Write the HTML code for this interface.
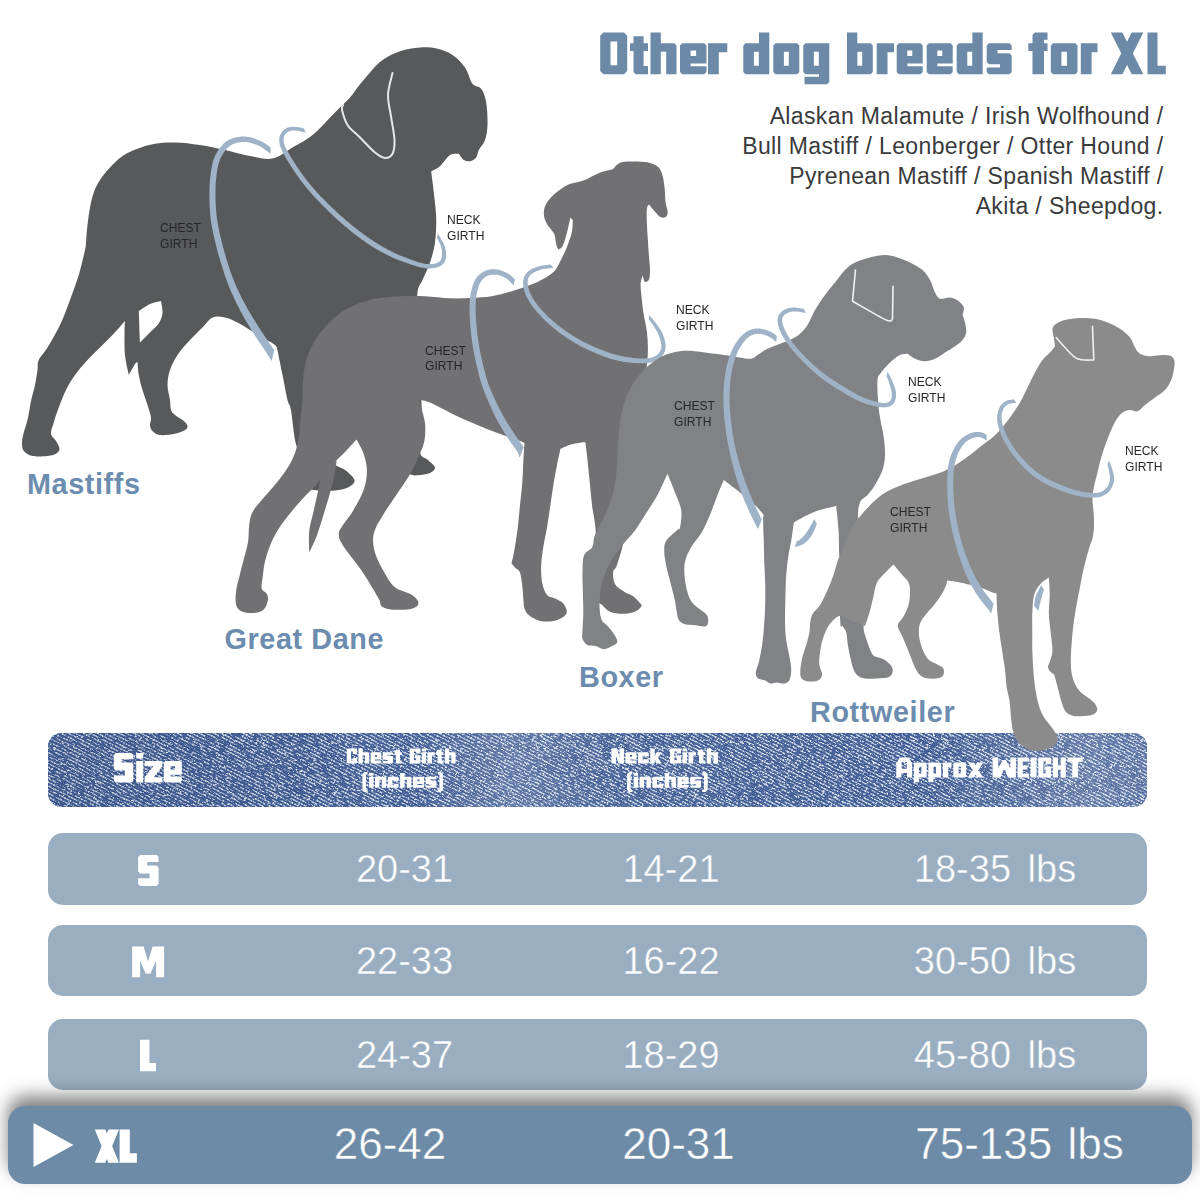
<!DOCTYPE html>
<html><head><meta charset="utf-8"><title>Size chart</title>
<style>
html,body{margin:0;padding:0;background:#fff;}
body{width:1200px;height:1200px;position:relative;overflow:hidden;font-family:"Liberation Sans",sans-serif;}
.abs{position:absolute;white-space:nowrap;}
#breeds{right:36.5px;top:102.4px;text-align:right;font-size:23px;line-height:29.75px;color:#3a3a3c;letter-spacing:0.37px;}
.lbl{font-size:13px;line-height:15.9px;color:#262628;transform-origin:0 0;transform:scaleX(0.93);}
.name{letter-spacing:0.6px;font-size:28.8px;font-weight:bold;color:#6b8cae;line-height:30px;}
.row{position:absolute;left:48px;width:1099px;height:71px;border-radius:15px;background:#9aaec1;}
.cell{position:absolute;color:#fff;font-size:38px;line-height:40px;transform:translateX(-50%);white-space:nowrap;-webkit-text-stroke:0.45px #9aaec1;}
.cx{-webkit-text-stroke:0.5px #6d8aa6;}
.sz{position:absolute;color:#fff;font-weight:bold;white-space:nowrap;transform:translateX(-50%);}
#hdr{position:absolute;left:48px;top:733px;width:1099px;height:74px;border-radius:14px;overflow:hidden;background:#6a8bbb;}
#xl{position:absolute;left:7.5px;top:1105.6px;width:1184.5px;height:78.4px;border-radius:17px;background:#6d8aa6;box-shadow:0 -10px 18px rgba(0,0,0,.5);}
.ht{color:transparent;font-weight:bold;}
.h{position:absolute;color:#fff;font-weight:bold;text-align:center;white-space:nowrap;transform:translateX(-50%);}
</style></head><body>
<div id="hdr"><svg width="1099" height="74" viewBox="0 0 1099 74" style="display:block">
<defs>
<pattern id="tw" width="3.1" height="3.3" patternUnits="userSpaceOnUse" patternTransform="rotate(27)">
<rect width="3.1" height="3.3" fill="#37538a"/><rect y="0" width="3.1" height="1.6" fill="#6f8dbd"/><rect x="0.2" y="0" width="2.0" height="1.5" fill="#eef1f7"/>
</pattern>
<filter id="dk" x="0" y="0" width="100%" height="100%" color-interpolation-filters="sRGB">
<feTurbulence type="fractalNoise" baseFrequency="0.22 0.6" numOctaves="2" seed="23" result="n"/>
<feColorMatrix in="n" type="matrix" values="0 0 0 0 0.28  0 0 0 0 0.39  0 0 0 0 0.60  9 0 0 0 -4.25"/>
</filter>
<filter id="sp" x="0" y="0" width="100%" height="100%" color-interpolation-filters="sRGB">
<feTurbulence type="fractalNoise" baseFrequency="0.4 0.9" numOctaves="2" seed="7" result="n"/>
<feColorMatrix in="n" type="matrix" values="0 0 0 0 0.90  0 0 0 0 0.92  0 0 0 0 0.96  8 0 0 0 -4.6"/>
</filter>
<linearGradient id="fade" x1="0" x2="1" y1="0" y2="0"><stop offset="0" stop-color="#0a1a40" stop-opacity=".10"/><stop offset=".25" stop-color="#0a1a40" stop-opacity=".04"/><stop offset=".33" stop-color="#fff" stop-opacity="0"/><stop offset=".42" stop-color="#fff" stop-opacity=".16"/><stop offset=".52" stop-color="#fff" stop-opacity=".03"/><stop offset=".8" stop-color="#fff" stop-opacity="0"/><stop offset=".95" stop-color="#fff" stop-opacity=".18"/><stop offset="1" stop-color="#fff" stop-opacity=".12"/></linearGradient>
</defs>
<rect width="1099" height="74" fill="url(#tw)"/>
<g transform="rotate(27 550 37)"><rect x="-100" y="-300" width="1300" height="700" filter="url(#dk)"/><rect x="-100" y="-300" width="1300" height="700" filter="url(#sp)"/></g>
<rect width="1099" height="74" fill="url(#fade)"/>
</svg></div>
<svg class="abs" style="left:0;top:0" width="1200" height="1200" viewBox="0 0 1200 1200">
<path d="M90.0,207.5C91.0,202.1 92.1,197.1 93.8,192.5C95.4,187.9 97.3,184.2 100.0,180.0C102.7,175.8 106.2,171.5 110.0,167.5C113.8,163.5 117.9,159.1 122.5,156.0C127.1,152.9 132.1,150.8 137.5,148.8C142.9,146.7 148.8,144.8 155.0,143.8C161.2,142.7 167.5,142.3 175.0,142.5C182.5,142.7 191.7,143.8 200.0,145.0C208.3,146.2 216.7,148.2 225.0,150.0C233.3,151.8 242.1,154.6 250.0,156.0C257.9,157.4 265.4,159.9 272.5,158.5C279.6,157.1 285.8,151.4 292.5,147.5C299.2,143.6 305.4,140.8 312.5,135.0C319.6,129.2 328.8,118.8 335.0,112.5C341.2,106.2 346.2,101.7 350.0,97.5C353.8,93.3 354.2,91.7 357.5,87.5C360.8,83.3 365.8,77.1 370.0,72.5C374.2,67.9 377.5,63.5 382.5,60.0C387.5,56.5 393.8,53.3 400.0,51.2C406.2,49.1 413.8,47.9 420.0,47.5C426.2,47.1 432.1,47.5 437.5,48.8C442.9,50.0 447.9,51.9 452.5,55.0C457.1,58.1 461.7,62.7 465.0,67.5C468.3,72.3 469.8,80.2 472.5,83.8C475.2,87.3 478.9,85.7 481.2,88.8C483.5,91.9 485.1,96.5 486.2,102.5C487.2,108.5 487.7,118.8 487.5,125.0C487.3,131.2 486.4,135.8 485.0,140.0C483.6,144.2 480.3,147.1 478.8,150.0C477.3,152.9 477.7,155.6 476.2,157.5C474.7,159.4 472.1,160.8 470.0,161.2C467.9,161.6 465.7,161.2 463.8,160.0C461.9,158.8 459.6,154.8 458.8,153.8C457.3,154.0 453.1,152.9 450.0,155.0C446.9,157.1 443.1,163.5 440.0,166.2C436.9,168.9 432.7,170.4 431.2,171.2C431.6,174.8 433.0,184.8 433.8,192.5C434.6,200.2 436.0,209.2 436.2,217.5C436.4,225.8 436.0,235.0 435.0,242.5C434.0,250.0 432.1,256.2 430.0,262.5C427.9,268.8 424.6,275.0 422.5,280.0C420.4,285.0 418.6,284.2 417.5,292.5C416.4,300.8 415.6,315.4 416.0,330.0C416.4,344.6 419.0,365.0 420.0,380.0C421.0,395.0 422.0,408.0 422.0,420.0C422.0,432.0 419.0,445.3 420.0,452.0C421.0,458.7 425.5,457.4 428.0,460.0C430.5,462.6 434.7,465.3 435.0,467.5C435.3,469.7 432.5,471.8 430.0,473.0C427.5,474.2 423.3,474.8 420.0,475.0C416.7,475.2 412.5,476.2 410.0,474.0C407.5,471.8 406.2,467.7 405.0,462.0C403.8,456.3 403.8,450.3 403.0,440.0C402.2,429.7 401.3,411.3 400.0,400.0C398.7,388.7 397.0,379.0 395.0,372.0C393.0,365.0 397.2,356.7 388.0,358.0C378.8,359.3 349.3,369.7 340.0,380.0C330.7,390.3 333.7,408.3 332.0,420.0C330.3,431.7 329.8,442.8 330.0,450.0C330.2,457.2 330.5,459.7 333.0,463.0C335.5,466.3 341.4,467.2 345.0,470.0C348.6,472.8 353.8,477.2 354.5,480.0C355.2,482.8 352.2,485.2 349.0,487.0C345.8,488.8 340.2,489.9 335.0,490.5C329.8,491.1 322.3,491.1 318.0,490.5C313.7,489.9 311.2,490.4 309.0,487.0C306.8,483.6 306.5,475.3 305.0,470.0C303.5,464.7 301.7,460.0 300.0,455.0C298.3,450.0 296.5,447.5 295.0,440.0C293.5,432.5 292.2,416.7 291.0,410.0C289.8,403.3 288.9,405.8 287.5,400.0C286.1,394.2 284.2,383.3 282.5,375.0C280.8,366.7 278.3,354.2 277.5,350.0C277.1,349.2 277.5,347.1 275.0,345.0C272.5,342.9 266.7,340.0 262.5,337.5C258.3,335.0 254.2,332.5 250.0,330.0C245.8,327.5 241.7,324.6 237.5,322.5C233.3,320.4 229.2,318.3 225.0,317.5C220.8,316.7 216.2,315.8 212.5,317.5C208.8,319.2 206.2,323.8 202.5,327.5C198.8,331.2 194.2,335.4 190.0,340.0C185.8,344.6 180.8,350.0 177.5,355.0C174.2,360.0 171.7,365.0 170.0,370.0C168.3,375.0 167.5,380.0 167.5,385.0C167.5,390.0 169.4,395.8 170.0,400.0C170.6,404.2 170.2,407.5 171.0,410.0C171.8,412.5 172.9,413.2 175.0,415.0C177.1,416.8 181.7,419.2 183.8,421.0C185.8,422.8 187.3,424.5 187.5,426.0C187.7,427.5 187.1,428.7 185.0,430.0C182.9,431.3 179.2,432.9 175.0,433.8C170.8,434.6 163.8,435.5 160.0,435.0C156.2,434.5 154.2,432.7 152.5,431.0C150.8,429.3 150.2,427.2 150.0,425.0C149.8,422.8 151.4,420.8 151.0,417.5C150.6,414.2 148.9,409.6 147.5,405.0C146.1,400.4 144.0,395.0 142.5,390.0C141.0,385.0 139.6,379.7 138.8,375.0C137.9,370.3 137.7,364.2 137.5,362.0C137.1,362.3 136.5,361.8 135.0,364.0C133.5,366.2 129.8,373.2 128.8,375.0C128.1,371.7 125.7,362.1 125.0,355.0C124.3,347.9 124.5,338.2 124.5,332.5C124.5,326.8 124.9,322.9 125.0,321.0C122.9,323.3 116.7,330.6 112.5,335.0C108.3,339.4 104.2,343.3 100.0,347.5C95.8,351.7 91.7,355.4 87.5,360.0C83.3,364.6 78.6,370.0 75.0,375.0C71.4,380.0 68.7,384.6 66.0,390.0C63.3,395.4 60.8,402.1 58.8,407.5C56.7,412.9 55.0,418.1 53.8,422.5C52.5,426.9 50.6,430.7 51.0,433.8C51.4,436.8 54.6,438.5 56.0,441.0C57.4,443.5 59.5,446.6 59.5,448.8C59.5,450.9 58.0,452.5 56.0,453.8C54.0,455.0 51.4,455.6 47.5,456.0C43.6,456.4 36.5,456.8 32.5,456.0C28.5,455.2 25.5,453.2 23.8,451.0C22.0,448.8 22.0,445.6 22.0,442.5C22.0,439.4 22.8,436.2 23.8,432.5C24.7,428.8 26.2,425.4 27.5,420.0C28.8,414.6 30.0,405.8 31.2,400.0C32.5,394.2 34.0,390.0 35.0,385.0C36.0,380.0 36.9,374.2 37.5,370.0C38.1,365.8 37.1,363.8 38.8,360.0C40.4,356.2 44.0,353.3 47.5,347.5C51.0,341.7 56.2,332.9 60.0,325.0C63.8,317.1 66.9,308.3 70.0,300.0C73.1,291.7 76.2,283.3 78.8,275.0C81.2,266.7 83.8,255.4 85.0,250.0C86.2,244.6 85.6,246.7 86.0,242.5C86.4,238.3 86.8,230.8 87.5,225.0C88.2,219.2 89.0,212.9 90.0,207.5Z" fill="#58595b"/>
<path d="M138.8,311.0C140.6,309.8 146.3,305.7 150.0,304.0C153.7,302.3 159.2,301.5 161.0,301.0C161.2,302.9 162.8,308.8 162.5,312.5C162.2,316.2 161.1,319.7 159.0,323.0C156.9,326.3 153.2,329.2 150.0,332.5C146.8,335.8 141.7,340.8 140.0,342.5C139.8,337.2 139.0,316.2 138.8,311.0Z" fill="#fff"/>
<path d="M392.5,73.0C391.8,76.7 388.2,87.6 388.0,95.0C387.8,102.4 390.1,110.0 391.2,117.5C392.3,125.0 394.3,133.9 394.5,140.0C394.7,146.1 394.1,150.8 392.5,153.8C390.9,156.8 387.9,158.2 385.0,158.0C382.1,157.8 379.2,155.9 375.0,152.5C370.8,149.1 364.6,142.1 360.0,137.5C355.4,132.9 350.5,129.6 347.5,125.0C344.5,120.4 342.8,113.3 342.0,110.0C341.2,106.7 342.8,105.8 343.0,105.0" fill="none" stroke="#e6e7e8" stroke-width="2.0" stroke-linecap="round" stroke-linejoin="round"/>
<path d="M304.1,128.6L303.5,128.4L303.0,128.3L302.4,128.1L301.8,127.9L301.2,127.8L300.6,127.6L300.0,127.5L299.4,127.4L298.8,127.3L298.2,127.2L297.7,127.1L297.2,127.0L296.6,127.0L296.1,126.9L295.5,126.9L295.0,126.9L294.4,126.8L293.9,126.8L293.3,126.8L292.8,126.8L292.2,126.8L291.7,126.8L291.1,126.9L290.6,126.9L290.1,127.0L289.6,127.1L289.1,127.2L288.6,127.4L288.2,127.5L287.7,127.6L287.3,127.8L286.8,128.0L286.4,128.2L286.0,128.4L285.6,128.6L285.2,128.9L284.8,129.1L284.4,129.4L284.1,129.7L283.7,130.0L283.4,130.3L283.0,130.6L282.7,131.0L282.4,131.3L282.1,131.7L281.8,132.1L281.5,132.5L281.3,132.9L281.0,133.3L280.8,133.7L280.5,134.2L280.3,134.7L280.1,135.1L279.9,135.6L279.8,136.1L279.6,136.6L279.5,137.2L279.4,137.7L279.3,138.2L279.3,138.8L279.2,139.3L279.2,139.9L279.2,140.4L279.3,141.0L279.3,141.5L279.4,142.1L279.4,142.7L279.5,143.2L279.6,143.8L279.7,144.4L279.9,145.0L280.0,145.5L280.2,146.1L280.4,146.7L280.5,147.3L280.8,147.9L281.0,148.4L281.2,149.0L281.5,149.6L281.7,150.1L282.0,150.7L282.3,151.3L282.6,151.8L282.9,152.4L283.2,153.0L283.5,153.6L283.8,154.2L284.2,154.8L284.6,155.5L284.9,156.2L285.3,156.9L285.8,157.6L286.2,158.4L286.6,159.2L287.1,160.0L287.6,160.8L288.1,161.6L288.6,162.4L289.1,163.3L289.7,164.1L290.2,165.0L290.8,165.9L291.3,166.7L291.9,167.6L292.4,168.5L293.0,169.3L293.6,170.2L294.1,171.0L294.7,171.9L295.3,172.8L295.9,173.7L296.5,174.6L297.2,175.4L297.8,176.3L298.4,177.2L299.1,178.1L299.7,179.0L300.4,179.9L301.0,180.8L301.7,181.7L302.4,182.6L303.1,183.5L303.8,184.4L304.5,185.3L305.2,186.1L305.9,187.0L306.6,187.9L307.3,188.7L308.0,189.6L308.8,190.5L309.5,191.3L310.3,192.2L311.0,193.1L311.8,194.0L312.6,194.9L313.5,195.8L314.3,196.8L315.2,197.7L316.1,198.7L317.0,199.6L317.9,200.6L318.9,201.6L319.9,202.6L320.9,203.7L321.9,204.7L322.9,205.7L323.9,206.8L325.0,207.8L326.0,208.8L327.1,209.8L328.1,210.9L329.2,211.9L330.2,212.9L331.2,213.9L332.3,214.8L333.3,215.8L334.3,216.8L335.4,217.7L336.4,218.7L337.4,219.6L338.5,220.6L339.5,221.5L340.6,222.4L341.7,223.4L342.7,224.3L343.8,225.3L344.9,226.2L346.1,227.1L347.2,228.1L348.3,229.0L349.5,230.0L350.7,231.0L351.9,231.9L353.2,232.9L354.4,233.9L355.7,234.9L356.9,235.8L358.2,236.8L359.5,237.8L360.8,238.8L362.1,239.7L363.4,240.6L364.7,241.6L366.0,242.5L367.3,243.4L368.5,244.2L369.8,245.0L371.1,245.9L372.4,246.7L373.7,247.5L375.0,248.2L376.3,249.0L377.5,249.7L378.8,250.5L380.1,251.2L381.4,251.9L382.7,252.6L383.9,253.3L385.2,253.9L386.4,254.5L387.7,255.2L388.9,255.8L390.1,256.3L391.3,256.9L392.5,257.5L393.6,258.0L394.8,258.5L396.0,259.0L397.1,259.4L398.3,259.9L399.4,260.4L400.5,260.8L401.7,261.2L402.8,261.6L403.9,262.0L405.0,262.4L406.1,262.8L407.2,263.2L408.3,263.6L409.4,264.0L410.5,264.4L411.7,264.7L412.8,265.1L413.9,265.5L415.1,265.8L416.2,266.2L417.3,266.5L418.4,266.8L419.5,267.1L420.6,267.4L421.6,267.6L422.7,267.8L423.7,268.0L424.7,268.2L425.7,268.3L426.6,268.4L427.6,268.4L428.5,268.4L429.5,268.5L430.4,268.4L431.3,268.4L432.1,268.3L433.0,268.2L433.8,268.1L434.6,268.0L435.4,267.8L436.1,267.6L436.9,267.4L437.6,267.2L438.2,267.0L438.9,266.7L439.5,266.4L440.1,266.1L440.7,265.8L441.3,265.4L441.8,265.1L442.3,264.6L442.8,264.2L443.2,263.7L443.7,263.2L444.1,262.7L444.4,262.1L444.7,261.5L445.0,260.9L445.3,260.3L445.5,259.6L445.7,258.9L445.8,258.2L446.0,257.4L446.0,256.6L446.1,255.8L446.1,255.0L446.1,254.2L446.0,253.3L446.0,252.5L445.9,251.6L445.8,250.8L445.6,249.9L445.4,249.0L445.2,248.2L445.0,247.3L444.8,246.5L444.4,245.6L444.1,244.7L443.7,243.8L443.2,242.8L442.7,241.8L442.2,240.9L441.6,239.9L441.1,239.0L440.6,238.1L440.1,237.2L439.6,236.4L439.1,235.6L438.7,234.9L438.4,234.3L438.1,233.7L437.8,233.3L436.9,237.9L437.4,238.7L437.9,239.6L438.3,240.5L438.8,241.4L439.3,242.4L439.7,243.3L440.1,244.2L440.5,245.1L440.8,246.0L441.0,246.8L441.2,247.5L441.4,248.2L441.6,249.0L441.7,249.7L441.8,250.5L441.9,251.3L442.0,252.0L442.0,252.8L442.0,253.5L442.0,254.2L442.0,254.9L442.0,255.6L441.9,256.3L441.8,256.9L441.7,257.4L441.6,257.9L441.5,258.4L441.3,258.8L441.2,259.2L441.0,259.6L440.8,260.0L440.6,260.3L440.4,260.6L440.1,260.9L439.8,261.2L439.5,261.5L439.2,261.7L438.9,262.0L438.5,262.2L438.1,262.4L437.7,262.6L437.2,262.8L436.8,263.0L436.2,263.2L435.7,263.4L435.1,263.5L434.5,263.7L433.8,263.8L433.2,263.9L432.5,264.0L431.7,264.1L431.0,264.1L430.2,264.1L429.5,264.1L428.6,264.1L427.8,264.1L427.0,264.0L426.1,263.9L425.3,263.8L424.4,263.7L423.5,263.5L422.6,263.3L421.6,263.1L420.6,262.8L419.6,262.5L418.6,262.2L417.5,261.9L416.4,261.5L415.4,261.2L414.3,260.8L413.2,260.4L412.1,260.0L411.0,259.6L409.9,259.2L408.8,258.8L407.7,258.4L406.6,258.0L405.5,257.6L404.5,257.2L403.4,256.7L402.3,256.3L401.2,255.9L400.1,255.4L399.0,254.9L397.9,254.5L396.8,254.0L395.7,253.5L394.6,252.9L393.4,252.4L392.3,251.8L391.1,251.2L390.0,250.6L388.8,250.0L387.6,249.4L386.4,248.7L385.1,248.1L383.9,247.4L382.7,246.7L381.4,246.0L380.2,245.2L378.9,244.5L377.7,243.7L376.4,243.0L375.2,242.2L373.9,241.4L372.7,240.6L371.5,239.8L370.2,239.0L369.0,238.1L367.7,237.2L366.5,236.3L365.2,235.4L363.9,234.5L362.7,233.6L361.4,232.6L360.1,231.7L358.9,230.7L357.7,229.7L356.4,228.8L355.2,227.8L354.0,226.8L352.8,225.9L351.7,225.0L350.5,224.0L349.4,223.1L348.3,222.2L347.2,221.3L346.1,220.4L345.1,219.5L344.0,218.5L343.0,217.6L341.9,216.7L340.9,215.8L339.9,214.9L338.9,213.9L337.8,213.0L336.8,212.0L335.8,211.1L334.8,210.1L333.7,209.2L332.7,208.2L331.6,207.2L330.6,206.2L329.6,205.2L328.5,204.2L327.5,203.2L326.5,202.2L325.5,201.1L324.5,200.1L323.5,199.1L322.5,198.1L321.5,197.2L320.6,196.2L319.7,195.2L318.8,194.3L318.0,193.4L317.1,192.5L316.3,191.6L315.5,190.7L314.7,189.8L314.0,189.0L313.2,188.1L312.5,187.3L311.8,186.4L311.1,185.6L310.4,184.8L309.7,183.9L309.0,183.1L308.3,182.2L307.6,181.4L306.9,180.5L306.2,179.6L305.6,178.8L304.9,177.9L304.3,177.0L303.6,176.2L303.0,175.3L302.3,174.4L301.7,173.5L301.1,172.7L300.5,171.8L299.9,170.9L299.3,170.1L298.7,169.2L298.1,168.4L297.6,167.5L297.0,166.7L296.4,165.8L295.9,165.0L295.3,164.1L294.8,163.3L294.3,162.4L293.7,161.6L293.2,160.8L292.7,159.9L292.2,159.1L291.7,158.3L291.2,157.5L290.8,156.7L290.3,156.0L289.9,155.2L289.5,154.5L289.1,153.8L288.7,153.2L288.3,152.5L287.9,151.9L287.6,151.3L287.3,150.7L286.9,150.2L286.6,149.6L286.4,149.1L286.1,148.6L285.8,148.1L285.6,147.6L285.4,147.2L285.2,146.7L285.0,146.2L284.8,145.8L284.6,145.3L284.5,144.8L284.3,144.3L284.2,143.9L284.1,143.4L284.0,142.9L283.9,142.4L283.8,142.0L283.7,141.5L283.6,141.1L283.6,140.7L283.6,140.2L283.5,139.8L283.5,139.4L283.5,139.0L283.6,138.7L283.6,138.3L283.7,138.0L283.7,137.6L283.8,137.3L283.9,137.0L284.0,136.6L284.1,136.3L284.3,136.0L284.4,135.6L284.6,135.3L284.8,135.0L285.0,134.7L285.1,134.4L285.3,134.1L285.5,133.9L285.8,133.6L286.0,133.4L286.2,133.2L286.4,132.9L286.6,132.7L286.9,132.5L287.1,132.4L287.4,132.2L287.6,132.0L287.9,131.9L288.2,131.7L288.5,131.6L288.8,131.4L289.1,131.3L289.4,131.2L289.7,131.1L290.1,131.0L290.4,130.9L290.8,130.8L291.1,130.7L291.5,130.7L292.0,130.6L292.4,130.6L292.9,130.6L293.3,130.6L293.8,130.6L294.3,130.6L294.8,130.6L295.3,130.6L295.8,130.6L296.3,130.7L296.8,130.7L297.3,130.8L297.8,130.8L298.2,130.9L298.7,131.0L299.2,131.1L299.8,131.2L300.3,131.3L300.9,131.4L301.5,131.6L302.0,131.7L302.6,131.9L303.1,132.0L303.6,132.2L304.1,132.3L304.5,132.4L304.9,132.6L305.2,132.7L305.5,132.7Z" fill="#9eb3c7"/>
<path d="M270.7,147.7L270.0,147.1L269.3,146.6L268.6,146.0L267.9,145.4L267.1,144.9L266.3,144.3L265.6,143.7L264.8,143.2L264.0,142.7L263.2,142.3L262.5,141.9L261.7,141.5L260.9,141.1L260.1,140.7L259.3,140.4L258.5,140.0L257.7,139.7L256.9,139.4L256.1,139.1L255.3,138.8L254.5,138.5L253.7,138.3L252.9,138.0L252.1,137.8L251.3,137.6L250.6,137.4L249.9,137.3L249.1,137.1L248.4,137.0L247.7,136.9L247.0,136.8L246.4,136.7L245.7,136.6L245.0,136.6L244.3,136.6L243.7,136.5L243.0,136.5L242.3,136.6L241.7,136.6L241.0,136.6L240.3,136.7L239.7,136.8L239.0,136.9L238.3,136.9L237.6,137.0L236.9,137.2L236.2,137.3L235.5,137.5L234.8,137.6L234.1,137.8L233.4,138.0L232.7,138.2L232.0,138.5L231.3,138.7L230.6,139.0L229.9,139.3L229.2,139.7L228.6,140.0L227.9,140.4L227.3,140.8L226.7,141.2L226.1,141.6L225.5,142.1L224.9,142.6L224.3,143.1L223.8,143.6L223.2,144.1L222.7,144.6L222.1,145.2L221.6,145.8L221.1,146.4L220.6,147.0L220.1,147.6L219.6,148.3L219.1,148.9L218.7,149.6L218.2,150.3L217.8,151.0L217.3,151.7L216.9,152.4L216.5,153.2L216.0,154.0L215.6,154.8L215.2,155.6L214.8,156.5L214.5,157.3L214.1,158.2L213.8,159.2L213.4,160.1L213.1,161.1L212.8,162.2L212.6,163.2L212.3,164.3L212.0,165.4L211.8,166.5L211.6,167.7L211.4,168.8L211.2,170.0L211.0,171.2L210.8,172.4L210.7,173.6L210.5,174.9L210.4,176.1L210.2,177.3L210.1,178.5L210.0,179.7L209.9,180.9L209.8,182.2L209.7,183.4L209.6,184.7L209.6,186.0L209.5,187.2L209.5,188.5L209.4,189.8L209.4,191.1L209.4,192.4L209.4,193.7L209.4,195.0L209.4,196.3L209.4,197.5L209.4,198.8L209.4,200.1L209.5,201.3L209.5,202.6L209.5,203.9L209.6,205.1L209.7,206.4L209.7,207.7L209.8,209.0L209.9,210.2L210.0,211.5L210.1,212.8L210.2,214.0L210.3,215.3L210.4,216.6L210.6,217.9L210.7,219.1L210.9,220.4L211.1,221.7L211.3,223.0L211.5,224.2L211.7,225.5L211.9,226.8L212.1,228.0L212.4,229.3L212.6,230.5L212.9,231.8L213.2,233.0L213.4,234.3L213.7,235.6L214.0,236.8L214.3,238.1L214.6,239.4L214.9,240.7L215.2,242.1L215.5,243.4L215.9,244.8L216.2,246.1L216.6,247.5L216.9,248.9L217.3,250.3L217.7,251.6L218.0,253.0L218.4,254.5L218.8,255.9L219.2,257.3L219.7,258.7L220.1,260.1L220.5,261.5L220.9,262.9L221.4,264.4L221.8,265.8L222.3,267.2L222.7,268.7L223.2,270.1L223.7,271.6L224.1,273.0L224.6,274.5L225.1,276.0L225.6,277.4L226.1,278.9L226.7,280.4L227.2,281.9L227.7,283.3L228.3,284.8L228.9,286.3L229.5,287.7L230.1,289.2L230.7,290.7L231.4,292.2L232.0,293.7L232.7,295.1L233.4,296.6L234.0,298.1L234.7,299.5L235.4,301.0L236.1,302.5L236.9,303.9L237.6,305.4L238.3,306.8L239.1,308.3L239.8,309.7L240.5,311.2L241.3,312.6L242.1,314.1L242.9,315.5L243.7,316.9L244.5,318.4L245.4,319.8L246.2,321.2L247.0,322.7L247.9,324.1L248.7,325.4L249.5,326.8L250.3,328.2L251.1,329.5L251.9,330.8L252.7,332.1L253.5,333.3L254.3,334.6L255.1,335.8L255.9,337.1L256.8,338.3L257.6,339.5L258.4,340.7L259.2,341.9L259.9,343.0L260.7,344.1L261.4,345.2L262.2,346.3L262.8,347.3L263.5,348.3L264.1,349.2L264.7,350.1L265.3,351.0L265.9,351.9L266.4,352.8L267.0,353.6L267.5,354.4L268.0,355.2L268.5,356.0L269.0,356.7L269.4,357.4L269.8,358.1L270.2,358.7L270.6,359.3L270.9,359.8L271.2,360.3L271.5,360.7L271.7,361.1L274.1,350.2L273.6,349.4L273.0,348.5L272.4,347.7L271.9,346.8L271.3,345.9L270.6,344.9L270.0,343.9L269.3,342.9L268.6,341.9L267.9,340.8L267.1,339.7L266.4,338.6L265.6,337.5L264.8,336.3L264.0,335.2L263.2,334.0L262.4,332.8L261.6,331.6L260.8,330.4L260.1,329.2L259.3,327.9L258.5,326.7L257.7,325.4L256.9,324.1L256.0,322.8L255.2,321.5L254.4,320.1L253.5,318.8L252.7,317.4L251.8,316.0L251.0,314.6L250.2,313.2L249.4,311.8L248.5,310.4L247.7,309.0L247.0,307.7L246.2,306.3L245.5,304.9L244.7,303.5L244.0,302.1L243.2,300.7L242.5,299.3L241.8,297.9L241.0,296.5L240.3,295.1L239.6,293.6L238.9,292.2L238.3,290.8L237.6,289.4L237.0,288.0L236.3,286.5L235.7,285.1L235.1,283.7L234.5,282.3L233.9,280.9L233.4,279.5L232.8,278.1L232.3,276.7L231.8,275.2L231.3,273.8L230.8,272.4L230.3,271.0L229.8,269.5L229.3,268.1L228.9,266.7L228.4,265.3L227.9,263.9L227.5,262.5L227.1,261.1L226.6,259.7L226.2,258.3L225.8,256.9L225.4,255.5L225.0,254.1L224.6,252.7L224.2,251.3L223.8,250.0L223.5,248.6L223.1,247.2L222.7,245.9L222.4,244.6L222.1,243.2L221.7,241.9L221.4,240.6L221.1,239.3L220.8,238.0L220.5,236.7L220.2,235.4L219.9,234.2L219.6,232.9L219.3,231.7L219.1,230.5L218.8,229.2L218.6,228.0L218.3,226.8L218.1,225.6L217.9,224.4L217.7,223.2L217.5,222.0L217.3,220.8L217.1,219.6L216.9,218.4L216.8,217.1L216.6,215.9L216.5,214.7L216.4,213.5L216.3,212.2L216.2,211.0L216.1,209.8L216.0,208.5L215.9,207.3L215.8,206.1L215.8,204.9L215.7,203.6L215.6,202.4L215.6,201.2L215.6,199.9L215.5,198.7L215.5,197.4L215.5,196.2L215.5,194.9L215.5,193.7L215.5,192.4L215.5,191.2L215.5,189.9L215.5,188.7L215.6,187.5L215.6,186.2L215.7,185.0L215.7,183.8L215.8,182.6L215.9,181.4L216.0,180.3L216.1,179.1L216.2,177.9L216.4,176.8L216.5,175.6L216.6,174.4L216.8,173.3L217.0,172.1L217.1,171.0L217.3,169.9L217.5,168.8L217.7,167.7L217.9,166.7L218.1,165.7L218.4,164.7L218.6,163.8L218.9,162.9L219.1,162.0L219.4,161.2L219.7,160.4L220.0,159.6L220.3,158.8L220.7,158.1L221.0,157.4L221.3,156.7L221.7,156.0L222.1,155.4L222.4,154.7L222.8,154.1L223.2,153.5L223.6,152.9L224.0,152.3L224.4,151.7L224.8,151.2L225.2,150.6L225.6,150.1L226.0,149.6L226.4,149.1L226.9,148.7L227.3,148.2L227.7,147.8L228.2,147.4L228.6,147.0L229.1,146.6L229.5,146.3L230.0,145.9L230.5,145.6L231.0,145.3L231.4,145.0L231.9,144.7L232.4,144.4L232.9,144.2L233.4,144.0L234.0,143.8L234.5,143.6L235.1,143.4L235.6,143.2L236.2,143.0L236.8,142.9L237.4,142.8L238.0,142.6L238.6,142.5L239.2,142.4L239.8,142.3L240.3,142.2L240.9,142.2L241.5,142.1L242.0,142.0L242.6,142.0L243.1,142.0L243.7,142.0L244.2,142.0L244.8,142.0L245.3,142.0L245.9,142.0L246.4,142.1L247.0,142.2L247.6,142.2L248.2,142.3L248.8,142.5L249.4,142.6L250.1,142.7L250.7,142.9L251.4,143.1L252.2,143.3L252.9,143.5L253.6,143.7L254.4,144.0L255.1,144.2L255.8,144.5L256.6,144.8L257.3,145.1L258.0,145.4L258.8,145.7L259.5,146.1L260.1,146.4L260.8,146.7L261.4,147.1L262.0,147.5L262.7,147.9L263.4,148.4L264.1,148.9L264.8,149.4L265.5,150.0L266.2,150.5L266.8,151.0L267.5,151.5L268.1,152.0L268.7,152.5L269.2,152.9L269.7,153.3L270.1,153.7L270.5,154.0Z" fill="#9eb3c7"/>
<path d="M302.5,400.0C303.0,393.2 302.4,386.7 303.0,380.0C303.6,373.3 304.6,365.8 306.2,360.0C307.8,354.2 309.8,350.0 312.5,345.0C315.2,340.0 318.3,335.0 322.5,330.0C326.7,325.0 332.1,319.2 337.5,315.0C342.9,310.8 348.8,307.7 355.0,305.0C361.2,302.3 367.5,300.3 375.0,298.8C382.5,297.3 391.7,296.6 400.0,296.2C408.3,295.8 416.7,295.8 425.0,296.2C433.3,296.6 442.4,298.0 450.0,298.3C457.6,298.6 463.9,298.2 470.8,297.9C477.8,297.5 484.8,297.3 491.7,296.2C498.6,295.1 505.6,293.1 512.5,291.0C519.4,288.9 527.8,286.1 533.3,283.8C538.8,281.6 542.3,279.6 545.8,277.5C549.3,275.4 551.9,273.6 554.2,271.2C556.5,268.8 557.7,266.0 559.4,262.9C561.1,259.8 563.0,256.0 564.6,252.5C566.2,249.0 567.6,245.6 568.8,242.1C570.0,238.6 571.2,235.3 571.9,231.7C572.6,228.0 572.7,222.1 572.9,220.2C572.5,219.8 570.8,217.9 570.4,217.5C569.8,220.2 568.0,229.0 566.7,233.8C565.4,238.6 563.9,243.6 562.5,246.2C561.1,248.8 559.0,248.9 558.3,249.4C557.9,248.5 556.9,246.8 556.2,244.2C555.5,241.6 555.6,236.9 554.2,233.8C552.8,230.7 549.6,228.2 547.9,225.4C546.2,222.6 544.7,220.2 544.2,217.1C543.7,214.0 543.5,210.2 544.8,206.7C546.1,203.2 549.1,199.3 552.1,196.2C555.1,193.1 559.4,190.0 562.5,187.9C565.6,185.8 567.3,185.0 570.8,183.8C574.3,182.6 579.5,182.0 583.3,180.6C587.1,179.2 590.3,177.0 593.8,175.4C597.3,173.8 601.1,172.2 604.2,171.2C607.3,170.2 610.4,170.2 612.5,169.2C614.6,168.2 615.0,166.2 616.7,165.0C618.4,163.8 619.4,162.5 622.9,161.9C626.4,161.3 633.0,161.3 637.5,161.5C642.0,161.7 646.5,162.0 650.0,162.9C653.5,163.8 656.2,165.0 658.3,167.1C660.4,169.2 661.5,171.9 662.5,175.4C663.5,178.9 664.1,183.4 664.6,187.9C665.1,192.4 665.1,198.5 665.6,202.5C666.1,206.5 667.7,209.5 667.7,211.9C667.7,214.3 666.8,216.2 665.6,217.1C664.4,218.0 662.3,218.1 660.4,217.1C658.5,216.1 656.1,212.9 654.2,210.8C652.3,208.7 649.9,205.6 649.0,204.6C648.6,205.3 647.2,205.7 646.9,208.8C646.5,211.9 646.7,218.1 646.9,223.3C647.1,228.5 647.5,234.4 647.9,240.0C648.2,245.6 648.6,251.8 649.0,256.7C649.4,261.6 650.0,265.4 650.0,269.2C650.0,273.0 649.9,277.5 649.0,279.6C648.1,281.7 645.8,282.4 644.8,281.7C643.8,281.0 643.1,276.4 642.7,275.4C642.4,276.8 640.8,280.0 640.6,283.8C640.4,287.6 641.2,293.1 641.7,298.3C642.2,303.5 642.9,309.4 643.8,315.0C644.7,320.6 646.2,326.1 646.9,331.7C647.6,337.2 647.9,342.8 647.9,348.3C647.9,353.9 647.6,359.8 646.9,365.0C646.2,370.2 644.7,375.4 643.8,379.6C642.9,383.8 642.3,383.3 641.7,390.0C641.1,396.7 641.0,408.3 640.0,420.0C639.0,431.7 637.7,446.7 636.0,460.0C634.3,473.3 632.0,486.7 630.0,500.0C628.0,513.3 626.2,529.2 624.0,540.0C621.8,550.8 618.8,559.6 617.0,565.0C615.2,570.4 613.4,568.8 613.1,572.1C612.8,575.4 613.3,581.3 615.2,584.6C617.1,587.9 621.7,590.0 624.6,591.9C627.5,593.8 630.3,594.1 632.9,596.0C635.5,597.9 638.8,601.5 640.2,603.3C641.6,605.0 642.1,605.1 641.2,606.5C640.3,607.9 638.1,610.5 635.0,611.7C631.9,612.9 626.7,613.8 622.5,613.8C618.3,613.8 613.3,613.1 610.0,611.7C606.7,610.3 604.7,607.4 602.7,605.4C600.7,603.4 599.0,604.2 598.0,600.0C597.0,595.8 596.7,586.7 596.5,580.0C596.3,573.3 597.2,568.8 597.0,560.0C596.8,551.2 596.2,536.7 595.4,527.5C594.6,518.3 592.9,512.5 592.0,505.0C591.1,497.5 590.5,490.0 589.8,482.5C589.0,475.0 588.2,466.8 587.5,460.0C586.8,453.2 585.7,445.0 585.3,442.0C583.0,442.4 575.9,443.2 571.8,444.3C567.7,445.4 562.4,448.1 560.5,448.8C559.9,451.4 558.2,458.9 557.1,464.5C556.0,470.1 554.9,475.8 553.8,482.5C552.7,489.2 551.5,497.5 550.4,505.0C549.3,512.5 548.1,520.8 547.0,527.5C545.9,534.2 544.5,539.9 543.6,545.5C542.7,551.1 541.8,556.0 541.4,561.3C541.0,566.5 541.0,572.5 541.4,577.0C541.8,581.5 542.5,585.1 543.6,588.3C544.7,591.5 546.2,594.4 548.1,596.1C550.0,597.8 552.5,597.3 554.9,598.4C557.3,599.5 560.8,600.8 562.8,602.9C564.8,605.0 566.6,608.5 566.8,610.8C567.0,613.0 566.1,614.7 563.9,616.4C561.7,618.1 557.7,620.1 553.8,620.9C549.9,621.6 544.4,621.8 540.3,620.9C536.2,620.0 531.6,617.4 529.0,615.3C526.4,613.2 525.4,611.1 524.5,608.5C523.6,605.9 523.8,603.2 523.4,599.5C523.0,595.8 522.9,590.5 522.3,586.0C521.7,581.5 521.1,575.5 520.0,572.5C518.9,569.5 516.9,569.5 515.5,568.0C514.1,566.5 512.2,564.2 511.5,563.5C512.0,561.2 513.4,556.0 514.4,550.0C515.4,544.0 516.9,535.0 517.8,527.5C518.7,520.0 519.2,512.5 520.0,505.0C520.8,497.5 521.7,490.0 522.3,482.5C522.9,475.0 523.0,466.6 523.4,460.0C523.8,453.4 524.3,445.9 524.5,443.1C523.8,442.7 524.5,442.6 520.0,440.9C515.5,439.2 505.0,435.8 497.5,433.0C490.0,430.2 482.5,427.2 475.0,424.0C467.5,420.8 460.0,417.5 452.5,413.9C445.0,410.3 435.6,404.9 430.0,402.6C424.4,400.3 420.8,400.4 419.0,400.0C419.5,401.7 421.1,406.2 422.1,410.4C423.1,414.6 424.9,419.8 425.2,425.0C425.5,430.2 425.4,436.1 424.2,441.7C423.0,447.2 420.3,452.8 417.9,458.3C415.5,463.9 413.1,469.1 409.6,475.0C406.1,480.9 401.3,487.6 397.1,493.8C392.9,500.1 388.2,506.6 384.6,512.5C381.0,518.4 377.1,524.3 375.2,529.2C373.3,534.1 372.9,537.2 373.1,541.7C373.3,546.2 374.3,551.0 376.2,556.2C378.1,561.4 381.8,568.0 384.6,572.9C387.4,577.8 390.1,582.4 392.9,585.4C395.7,588.4 398.1,589.0 401.2,590.6C404.3,592.2 408.9,593.1 411.7,594.8C414.5,596.5 417.0,599.1 417.9,601.0C418.8,602.9 418.6,604.8 416.9,606.2C415.2,607.6 411.9,608.9 407.5,609.4C403.1,609.9 395.1,609.9 390.8,609.4C386.5,608.9 383.4,607.8 381.5,606.2C379.6,604.6 381.0,603.1 379.4,600.0C377.8,596.9 375.1,592.4 372.1,587.5C369.2,582.6 365.5,576.3 361.7,570.8C357.9,565.2 352.7,559.1 349.2,554.2C345.7,549.4 342.5,545.2 340.8,541.7C339.1,538.2 338.5,536.1 338.8,533.3C339.1,530.5 340.5,528.8 342.9,525.0C345.3,521.2 349.8,516.3 353.3,510.4C356.8,504.5 361.5,496.2 363.8,489.6C366.1,483.0 366.9,476.7 366.9,470.8C366.9,464.9 365.5,459.4 363.8,454.2C362.1,449.0 357.7,442.0 356.5,439.6C354.6,441.7 348.6,448.3 345.0,452.1C341.4,455.9 337.7,459.0 334.6,462.5C331.5,466.0 328.6,469.9 326.2,472.9C323.8,475.8 322.1,477.8 320.0,480.2C317.9,482.6 316.6,484.6 313.8,487.5C311.0,490.4 307.1,493.7 303.3,497.9C299.5,502.1 295.0,507.3 290.8,512.5C286.6,517.7 281.8,523.7 278.3,529.2C274.8,534.8 272.2,540.2 270.0,545.8C267.8,551.3 266.0,557.3 264.8,562.5C263.6,567.7 263.2,572.8 262.7,577.1C262.2,581.4 261.0,585.7 261.7,588.5C262.4,591.3 265.9,591.9 266.9,593.8C267.9,595.7 268.2,597.6 267.9,600.0C267.5,602.4 266.5,606.2 264.8,608.3C263.1,610.4 260.8,611.8 257.5,612.5C254.2,613.2 248.3,613.2 245.0,612.5C241.7,611.8 239.3,610.4 237.7,608.3C236.1,606.2 235.8,603.5 235.6,600.0C235.4,596.5 236.0,591.7 236.7,587.5C237.4,583.3 238.6,579.9 239.8,575.0C241.0,570.1 242.6,563.8 244.0,558.3C245.4,552.8 247.2,547.2 248.1,541.7C249.0,536.2 248.5,529.9 249.2,525.0C249.9,520.1 250.2,516.7 252.3,512.5C254.4,508.3 257.7,504.9 261.7,500.0C265.7,495.1 271.3,489.6 276.2,483.3C281.1,477.1 287.1,469.4 290.8,462.5C294.5,455.6 296.5,448.6 298.1,441.7C299.7,434.8 299.5,427.8 300.2,420.8C300.9,413.9 302.0,406.8 302.5,400.0Z" fill="#717073"/>
<path d="M336.7,460.4C336.3,463.2 335.2,471.9 334.2,477.1C333.1,482.3 332.1,485.8 330.4,491.7C328.7,497.6 326.4,505.2 324.2,512.5C321.9,519.8 319.4,528.7 316.9,535.4C314.4,542.1 310.5,549.6 309.2,552.5C309.2,549.0 308.5,537.9 309.2,531.2C309.9,524.5 311.9,518.7 313.3,512.5C314.7,506.3 316.3,499.4 317.5,493.8C318.7,488.2 319.3,483.4 320.4,479.2C321.5,475.0 323.6,470.5 324.2,468.8C326.3,467.4 334.6,461.8 336.7,460.4Z" fill="#717073"/>
<path d="M550.4,264.5L549.6,264.6L548.7,264.7L547.7,264.8L546.8,264.9L545.8,265.0L544.8,265.2L543.7,265.3L542.7,265.5L541.8,265.6L540.8,265.8L539.9,266.0L539.1,266.3L538.3,266.5L537.5,266.7L536.7,267.0L535.9,267.3L535.2,267.6L534.4,267.9L533.7,268.2L532.9,268.5L532.2,268.8L531.5,269.2L530.8,269.6L530.1,270.0L529.5,270.4L528.9,270.8L528.3,271.3L527.7,271.8L527.2,272.3L526.8,272.8L526.3,273.3L525.9,273.8L525.5,274.4L525.1,274.9L524.8,275.5L524.5,276.1L524.2,276.8L524.0,277.4L523.7,278.1L523.6,278.7L523.4,279.4L523.3,280.1L523.2,280.8L523.1,281.6L523.1,282.3L523.1,283.1L523.1,283.9L523.2,284.7L523.2,285.5L523.3,286.3L523.5,287.2L523.6,288.0L523.8,288.9L524.0,289.8L524.3,290.7L524.5,291.6L524.8,292.5L525.2,293.4L525.5,294.3L525.9,295.2L526.3,296.1L526.8,297.0L527.2,297.9L527.7,298.8L528.2,299.7L528.7,300.7L529.3,301.6L529.9,302.5L530.5,303.5L531.2,304.4L531.8,305.4L532.5,306.4L533.3,307.4L534.0,308.4L534.8,309.3L535.6,310.3L536.5,311.4L537.4,312.4L538.3,313.4L539.3,314.5L540.3,315.6L541.3,316.7L542.3,317.7L543.4,318.8L544.5,319.9L545.6,321.0L546.8,322.1L547.9,323.2L549.1,324.2L550.2,325.3L551.4,326.3L552.6,327.3L553.8,328.3L555.1,329.3L556.3,330.3L557.6,331.3L558.9,332.3L560.2,333.2L561.6,334.2L562.9,335.2L564.2,336.1L565.6,337.0L567.0,337.9L568.3,338.8L569.7,339.7L571.0,340.6L572.3,341.4L573.7,342.2L575.0,343.0L576.3,343.8L577.6,344.5L579.0,345.3L580.3,346.0L581.6,346.7L582.9,347.3L584.2,348.0L585.6,348.6L586.9,349.3L588.2,349.9L589.5,350.5L590.8,351.1L592.1,351.7L593.5,352.3L594.8,352.8L596.1,353.4L597.4,353.9L598.7,354.5L600.0,355.0L601.4,355.5L602.7,356.0L604.0,356.5L605.4,357.0L606.7,357.5L608.0,357.9L609.4,358.4L610.7,358.8L612.0,359.2L613.4,359.5L614.7,359.9L616.1,360.2L617.4,360.6L618.8,360.9L620.2,361.1L621.6,361.4L623.0,361.7L624.4,361.9L625.8,362.1L627.1,362.3L628.5,362.5L629.9,362.6L631.2,362.8L632.5,362.9L633.8,363.0L635.0,363.1L636.2,363.2L637.4,363.2L638.5,363.3L639.6,363.3L640.7,363.3L641.7,363.3L642.8,363.3L643.8,363.3L644.8,363.2L645.7,363.2L646.7,363.1L647.6,363.0L648.5,362.9L649.4,362.7L650.3,362.6L651.1,362.4L651.9,362.2L652.7,362.0L653.5,361.8L654.2,361.5L655.0,361.2L655.7,360.9L656.3,360.6L657.0,360.3L657.6,359.9L658.2,359.5L658.8,359.1L659.3,358.7L659.8,358.3L660.3,357.9L660.8,357.4L661.2,357.0L661.7,356.5L662.1,356.0L662.5,355.5L662.8,355.0L663.2,354.5L663.5,353.9L663.9,353.4L664.2,352.8L664.4,352.2L664.7,351.6L664.9,351.0L665.1,350.4L665.3,349.7L665.4,349.0L665.5,348.4L665.6,347.7L665.6,346.9L665.6,346.2L665.6,345.4L665.5,344.7L665.5,343.9L665.3,343.0L665.2,342.2L665.0,341.4L664.8,340.5L664.6,339.7L664.4,338.8L664.2,338.0L663.9,337.1L663.6,336.2L663.3,335.4L663.0,334.6L662.6,333.8L662.3,333.0L661.9,332.2L661.5,331.3L661.0,330.5L660.5,329.7L660.0,328.9L659.5,328.2L659.0,327.4L658.4,326.6L657.9,325.9L657.4,325.2L656.8,324.4L656.3,323.8L655.8,323.1L655.3,322.5L654.9,321.9L654.4,321.3L654.0,320.8L653.6,320.3L653.2,319.7L652.8,319.2L652.4,318.7L652.0,318.3L651.6,317.8L651.2,317.4L650.8,317.0L650.5,316.7L650.2,316.3L649.9,316.0L649.6,315.7L649.4,315.5L649.2,315.2L649.0,315.0L648.9,319.4L649.2,319.8L649.6,320.3L649.9,320.7L650.3,321.2L650.7,321.7L651.0,322.2L651.4,322.7L651.8,323.3L652.1,323.8L652.6,324.5L653.0,325.1L653.4,325.8L653.9,326.5L654.4,327.2L654.8,328.0L655.3,328.7L655.8,329.5L656.2,330.2L656.7,331.0L657.1,331.7L657.5,332.5L657.9,333.2L658.2,333.9L658.5,334.6L658.8,335.4L659.1,336.1L659.4,336.8L659.6,337.6L659.9,338.4L660.1,339.2L660.4,339.9L660.6,340.7L660.7,341.5L660.9,342.2L661.1,343.0L661.2,343.7L661.3,344.4L661.3,345.0L661.4,345.6L661.4,346.2L661.4,346.7L661.3,347.3L661.3,347.8L661.2,348.3L661.1,348.7L661.0,349.2L660.8,349.6L660.7,350.1L660.5,350.5L660.3,350.9L660.1,351.3L659.8,351.7L659.6,352.1L659.3,352.5L659.0,352.8L658.7,353.2L658.4,353.6L658.1,353.9L657.7,354.3L657.4,354.6L657.0,354.9L656.6,355.2L656.2,355.5L655.8,355.8L655.3,356.1L654.8,356.3L654.3,356.6L653.8,356.8L653.3,357.0L652.7,357.2L652.1,357.4L651.5,357.6L650.8,357.8L650.1,357.9L649.4,358.0L648.7,358.2L647.9,358.3L647.1,358.3L646.3,358.4L645.4,358.5L644.5,358.5L643.6,358.5L642.7,358.5L641.7,358.5L640.8,358.5L639.7,358.5L638.7,358.4L637.6,358.4L636.5,358.3L635.4,358.2L634.2,358.1L633.0,357.9L631.7,357.8L630.5,357.6L629.2,357.4L627.9,357.3L626.5,357.0L625.2,356.8L623.9,356.6L622.5,356.3L621.2,356.1L619.9,355.8L618.6,355.5L617.3,355.2L616.1,354.8L614.8,354.5L613.5,354.1L612.3,353.7L611.0,353.3L609.7,352.9L608.4,352.5L607.1,352.0L605.9,351.5L604.6,351.1L603.3,350.6L602.0,350.1L600.7,349.6L599.4,349.0L598.1,348.5L596.8,348.0L595.5,347.4L594.3,346.9L593.0,346.3L591.7,345.7L590.4,345.1L589.1,344.5L587.8,343.9L586.6,343.3L585.3,342.7L584.0,342.0L582.7,341.4L581.4,340.7L580.2,340.0L578.9,339.3L577.6,338.5L576.3,337.8L575.0,337.0L573.7,336.2L572.4,335.4L571.1,334.5L569.8,333.7L568.4,332.8L567.1,331.9L565.8,331.0L564.5,330.1L563.2,329.2L561.9,328.2L560.6,327.3L559.4,326.3L558.2,325.4L557.0,324.4L555.8,323.5L554.6,322.5L553.5,321.5L552.4,320.5L551.2,319.5L550.1,318.5L549.0,317.5L547.9,316.4L546.9,315.4L545.8,314.3L544.8,313.3L543.8,312.2L542.9,311.2L541.9,310.2L541.0,309.2L540.2,308.2L539.4,307.3L538.6,306.3L537.8,305.4L537.1,304.4L536.4,303.5L535.8,302.6L535.1,301.7L534.5,300.8L534.0,300.0L533.4,299.1L532.9,298.2L532.4,297.4L531.9,296.5L531.5,295.7L531.1,294.8L530.7,294.0L530.3,293.2L529.9,292.4L529.6,291.7L529.3,290.9L529.1,290.1L528.8,289.3L528.6,288.6L528.4,287.8L528.2,287.1L528.1,286.4L527.9,285.6L527.8,285.0L527.8,284.3L527.7,283.6L527.7,283.0L527.7,282.4L527.7,281.8L527.7,281.3L527.7,280.7L527.8,280.2L527.9,279.7L528.0,279.3L528.2,278.8L528.3,278.4L528.5,278.0L528.7,277.5L528.9,277.1L529.1,276.7L529.4,276.3L529.7,276.0L530.0,275.6L530.3,275.2L530.7,274.8L531.0,274.5L531.4,274.1L531.9,273.8L532.4,273.4L532.9,273.1L533.5,272.8L534.0,272.4L534.7,272.1L535.3,271.8L536.0,271.5L536.6,271.2L537.3,270.9L538.0,270.7L538.7,270.4L539.4,270.2L540.1,269.9L540.9,269.7L541.6,269.5L542.5,269.3L543.4,269.1L544.3,269.0L545.3,268.8L546.3,268.7L547.2,268.5L548.2,268.4L549.1,268.3L550.0,268.2L550.8,268.1L551.6,268.0L552.3,267.9L552.9,267.9L553.4,267.8Z" fill="#9eb3c7"/>
<path d="M515.0,279.5L514.5,279.0L514.0,278.5L513.4,278.0L512.9,277.4L512.3,276.9L511.7,276.3L511.1,275.8L510.5,275.3L509.8,274.8L509.2,274.4L508.6,274.0L508.0,273.6L507.3,273.2L506.7,272.9L506.1,272.5L505.4,272.2L504.7,271.9L504.0,271.5L503.3,271.2L502.6,271.0L501.9,270.7L501.2,270.4L500.5,270.2L499.7,270.0L499.0,269.8L498.3,269.7L497.5,269.6L496.8,269.5L496.1,269.4L495.3,269.3L494.6,269.3L493.8,269.2L493.1,269.2L492.3,269.3L491.5,269.3L490.8,269.4L490.0,269.5L489.3,269.6L488.5,269.8L487.8,269.9L487.0,270.1L486.3,270.4L485.6,270.7L485.0,270.9L484.3,271.3L483.6,271.6L482.9,272.0L482.3,272.4L481.6,272.8L481.0,273.2L480.4,273.7L479.7,274.2L479.1,274.7L478.6,275.3L478.0,275.9L477.4,276.5L476.9,277.2L476.4,277.8L475.9,278.6L475.5,279.3L475.0,280.1L474.6,280.9L474.2,281.7L473.9,282.5L473.5,283.4L473.2,284.2L472.9,285.1L472.6,286.0L472.3,286.9L472.1,287.8L471.8,288.7L471.6,289.6L471.4,290.5L471.2,291.3L471.0,292.2L470.8,293.1L470.6,294.1L470.5,295.0L470.3,295.9L470.2,296.8L470.1,297.8L470.0,298.7L469.9,299.7L469.9,300.6L469.8,301.6L469.7,302.6L469.7,303.6L469.7,304.6L469.6,305.6L469.6,306.6L469.6,307.7L469.6,308.8L469.5,309.9L469.6,311.0L469.6,312.2L469.6,313.3L469.6,314.5L469.7,315.6L469.7,316.8L469.8,318.0L469.8,319.2L469.9,320.4L470.0,321.6L470.1,322.8L470.2,324.0L470.2,325.3L470.3,326.5L470.5,327.7L470.6,329.0L470.7,330.2L470.8,331.5L471.0,332.7L471.1,334.0L471.3,335.3L471.4,336.6L471.6,337.8L471.8,339.1L471.9,340.4L472.1,341.7L472.3,343.0L472.5,344.2L472.7,345.5L472.9,346.8L473.1,348.0L473.3,349.3L473.6,350.6L473.8,351.8L474.0,353.1L474.3,354.4L474.5,355.6L474.8,356.9L475.0,358.2L475.3,359.4L475.5,360.7L475.8,361.9L476.1,363.2L476.4,364.5L476.7,365.7L477.0,367.0L477.3,368.3L477.6,369.5L477.9,370.8L478.2,372.1L478.6,373.4L478.9,374.7L479.2,376.0L479.6,377.2L479.9,378.5L480.3,379.8L480.7,381.1L481.0,382.3L481.4,383.6L481.8,384.8L482.2,386.1L482.6,387.3L483.1,388.5L483.5,389.7L483.9,390.8L484.4,392.0L484.8,393.2L485.3,394.3L485.8,395.4L486.2,396.6L486.7,397.7L487.2,398.8L487.7,399.9L488.2,401.1L488.7,402.2L489.2,403.3L489.7,404.4L490.2,405.6L490.7,406.7L491.2,407.9L491.7,409.1L492.3,410.2L492.8,411.4L493.4,412.6L493.9,413.7L494.5,414.9L495.0,416.0L495.6,417.2L496.2,418.3L496.8,419.5L497.4,420.6L497.9,421.7L498.5,422.8L499.1,423.9L499.8,425.0L500.4,426.1L501.0,427.2L501.6,428.2L502.3,429.3L502.9,430.3L503.6,431.4L504.2,432.4L504.8,433.4L505.5,434.4L506.1,435.4L506.7,436.3L507.3,437.3L507.9,438.2L508.6,439.1L509.2,440.1L509.8,441.0L510.4,441.9L511.1,442.9L511.7,443.8L512.4,444.7L513.0,445.5L513.6,446.4L514.2,447.2L514.8,448.0L515.3,448.8L515.8,449.5L516.3,450.2L516.7,450.8L517.1,451.4L517.4,452.0L517.7,452.5L518.0,452.9L518.2,453.4L518.4,453.8L518.5,454.2L518.7,454.5L518.8,454.9L518.9,455.2L519.0,455.5L519.1,455.8L519.1,456.1L519.2,456.5L519.3,456.8L519.4,457.1L519.5,457.5L519.6,457.8L523.7,447.3L523.3,446.6L522.8,445.8L522.2,445.1L521.7,444.3L521.1,443.5L520.5,442.7L519.9,441.8L519.3,441.0L518.7,440.1L518.1,439.2L517.5,438.4L516.8,437.5L516.2,436.6L515.6,435.7L515.0,434.9L514.5,434.0L513.8,433.0L513.2,432.1L512.6,431.1L512.0,430.2L511.3,429.2L510.7,428.2L510.0,427.3L509.4,426.3L508.8,425.3L508.1,424.3L507.5,423.2L506.9,422.2L506.3,421.2L505.7,420.2L505.1,419.2L504.5,418.1L503.9,417.1L503.3,416.0L502.7,414.9L502.1,413.8L501.5,412.7L500.9,411.6L500.4,410.5L499.8,409.4L499.2,408.3L498.7,407.2L498.1,406.0L497.6,404.9L497.0,403.8L496.5,402.7L495.9,401.6L495.4,400.4L494.9,399.3L494.4,398.2L493.9,397.2L493.4,396.1L492.9,395.0L492.4,393.9L491.9,392.8L491.4,391.7L491.0,390.6L490.5,389.5L490.1,388.4L489.6,387.3L489.2,386.2L488.8,385.1L488.4,383.9L488.0,382.8L487.6,381.6L487.2,380.4L486.8,379.2L486.5,378.0L486.1,376.8L485.8,375.5L485.4,374.3L485.1,373.0L484.8,371.8L484.4,370.5L484.1,369.3L483.8,368.0L483.5,366.8L483.2,365.5L482.9,364.3L482.6,363.0L482.3,361.8L482.0,360.6L481.8,359.3L481.5,358.1L481.2,356.8L481.0,355.6L480.7,354.4L480.5,353.1L480.2,351.9L480.0,350.7L479.8,349.4L479.5,348.2L479.3,347.0L479.1,345.7L478.9,344.5L478.7,343.3L478.5,342.0L478.3,340.8L478.1,339.5L477.9,338.3L477.8,337.0L477.6,335.8L477.4,334.5L477.3,333.3L477.1,332.0L477.0,330.8L476.8,329.6L476.7,328.3L476.6,327.1L476.5,325.9L476.4,324.7L476.3,323.6L476.2,322.4L476.1,321.2L476.0,320.0L475.9,318.9L475.8,317.7L475.8,316.5L475.7,315.4L475.7,314.3L475.7,313.1L475.6,312.0L475.6,310.9L475.6,309.9L475.6,308.8L475.6,307.8L475.6,306.8L475.6,305.8L475.7,304.8L475.7,303.8L475.7,302.9L475.8,301.9L475.9,301.0L475.9,300.1L476.0,299.3L476.1,298.4L476.2,297.6L476.3,296.7L476.4,295.9L476.5,295.1L476.7,294.3L476.9,293.5L477.0,292.7L477.2,291.8L477.4,291.0L477.6,290.2L477.8,289.4L478.1,288.6L478.3,287.8L478.6,287.0L478.8,286.2L479.1,285.5L479.4,284.8L479.6,284.1L479.9,283.4L480.2,282.8L480.6,282.2L480.9,281.7L481.2,281.2L481.5,280.7L481.9,280.2L482.3,279.8L482.7,279.3L483.1,278.9L483.5,278.5L483.9,278.2L484.4,277.8L484.8,277.5L485.3,277.1L485.8,276.8L486.3,276.6L486.8,276.3L487.3,276.0L487.8,275.8L488.3,275.6L488.8,275.4L489.3,275.3L489.8,275.1L490.3,275.0L490.9,274.9L491.4,274.8L492.0,274.7L492.6,274.7L493.2,274.7L493.8,274.7L494.4,274.7L495.0,274.7L495.6,274.7L496.2,274.8L496.8,274.8L497.3,274.9L497.9,275.0L498.5,275.1L499.0,275.3L499.6,275.4L500.2,275.6L500.8,275.8L501.4,276.1L502.0,276.3L502.5,276.6L503.1,276.8L503.7,277.1L504.3,277.4L504.8,277.7L505.4,278.0L505.9,278.3L506.4,278.6L506.9,278.9L507.4,279.3L507.9,279.7L508.4,280.1L508.9,280.6L509.4,281.0L509.9,281.5L510.4,282.0L510.9,282.5L511.3,283.0L511.8,283.5L512.2,283.9L512.6,284.3L512.9,284.7L513.3,285.0L513.6,285.3Z" fill="#9eb3c7"/>
<path d="M617.5,455.0C617.9,448.3 618.2,441.7 618.8,435.0C619.4,428.3 620.0,421.2 621.2,415.0C622.4,408.8 624.1,402.9 626.2,397.5C628.3,392.1 631.1,386.9 633.8,382.5C636.5,378.1 639.4,374.5 642.5,371.2C645.6,367.9 648.8,365.2 652.5,362.5C656.2,359.8 660.4,356.9 665.0,355.0C669.6,353.1 675.0,351.8 680.0,351.2C685.0,350.6 689.2,350.8 695.0,351.2C700.8,351.6 708.8,353.0 715.0,353.8C721.2,354.6 726.7,355.4 732.5,356.2C738.3,357.0 745.8,359.0 750.0,358.8C754.2,358.6 754.6,356.7 757.5,355.0C760.4,353.3 763.8,350.7 767.5,348.8C771.2,346.9 775.8,345.5 780.0,343.8C784.2,342.1 789.2,340.5 792.5,338.8C795.8,337.1 797.5,336.1 800.0,333.8C802.5,331.5 805.0,329.0 807.5,325.0C810.0,321.0 812.1,315.0 815.0,310.0C817.9,305.0 821.7,299.6 825.0,295.0C828.3,290.4 831.7,286.7 835.0,282.5C838.3,278.3 841.7,273.3 845.0,270.0C848.3,266.7 850.8,264.6 855.0,262.5C859.2,260.4 865.0,258.8 870.0,257.5C875.0,256.2 880.4,255.0 885.0,255.0C889.6,255.0 893.3,256.2 897.5,257.5C901.7,258.8 905.8,260.4 910.0,262.5C914.2,264.6 919.2,267.1 922.5,270.0C925.8,272.9 927.9,276.2 930.0,280.0C932.1,283.8 933.3,289.4 935.0,292.5C936.7,295.6 937.5,298.0 940.0,298.8C942.5,299.6 946.9,297.1 950.0,297.5C953.1,297.9 956.5,299.5 958.8,301.2C961.1,302.9 963.2,305.2 963.8,307.5C964.4,309.8 962.7,313.8 962.5,315.0C962.9,316.2 964.4,319.6 965.0,322.5C965.6,325.4 966.6,329.6 966.2,332.5C965.8,335.4 964.4,337.7 962.5,340.0C960.6,342.3 957.9,344.1 955.0,346.2C952.1,348.3 948.3,350.4 945.0,352.5C941.7,354.6 938.3,357.4 935.0,358.8C931.7,360.2 928.3,361.2 925.0,361.2C921.7,361.2 917.9,360.0 915.0,358.8C912.1,357.6 908.8,354.6 907.5,353.8C906.2,354.0 902.9,353.6 900.0,355.0C897.1,356.4 893.1,359.6 890.0,362.5C886.9,365.4 883.3,369.6 881.2,372.5C879.1,375.4 878.0,375.4 877.5,380.0C877.0,384.6 877.6,393.8 878.0,400.0C878.4,406.2 879.0,411.2 880.0,417.5C881.0,423.8 883.0,431.2 883.8,437.5C884.6,443.8 885.2,449.6 885.0,455.0C884.8,460.4 884.2,465.0 882.5,470.0C880.8,475.0 877.5,480.8 875.0,485.0C872.5,489.2 870.0,492.1 867.5,495.0C865.0,497.9 861.6,498.3 860.0,502.5C858.4,506.7 857.7,510.4 858.0,520.0C858.3,529.6 861.0,546.7 862.0,560.0C863.0,573.3 863.8,589.0 864.0,600.0C864.2,611.0 863.3,620.2 863.5,626.0C863.7,631.8 864.2,632.0 865.0,635.0C865.8,638.0 867.0,641.2 868.0,644.0C869.0,646.8 870.0,649.5 871.0,651.5C872.0,653.5 872.0,654.8 874.0,656.0C876.0,657.2 880.2,657.5 883.0,659.0C885.8,660.5 888.9,663.0 890.5,665.0C892.1,667.0 893.0,669.0 892.7,671.0C892.5,673.0 891.9,675.8 889.0,677.0C886.1,678.2 879.5,678.2 875.5,678.5C871.5,678.8 868.0,679.0 865.0,678.5C862.0,678.0 859.5,677.2 857.5,675.5C855.5,673.8 854.2,671.2 853.0,668.0C851.8,664.8 850.9,660.0 850.0,656.0C849.1,652.0 848.3,648.0 847.7,644.0C847.1,640.0 847.1,635.0 846.2,632.0C845.3,629.0 843.5,628.0 842.5,626.0C841.5,624.0 840.8,632.0 840.2,620.0C839.7,608.0 839.5,569.0 839.2,554.0C838.9,539.0 839.0,538.0 838.5,530.0C838.0,522.0 836.6,510.0 836.2,506.0C833.5,506.7 824.8,508.5 820.0,510.0C815.2,511.5 811.9,512.9 807.5,515.0C803.1,517.1 796.1,521.2 793.8,522.5C793.4,525.5 792.2,535.0 791.2,540.8C790.2,546.6 789.0,551.2 788.1,557.5C787.2,563.8 786.5,571.3 786.0,578.3C785.5,585.2 785.6,592.2 785.4,599.2C785.2,606.2 784.9,613.4 785.0,620.0C785.1,626.6 785.3,632.9 786.0,638.8C786.7,644.7 788.3,650.2 789.2,655.4C790.1,660.6 791.2,665.8 791.2,670.0C791.2,674.2 790.4,678.1 789.2,680.4C788.0,682.6 786.1,683.1 784.0,683.5C781.9,683.9 779.0,682.5 776.7,682.5C774.4,682.5 772.3,683.9 770.4,683.5C768.5,683.1 767.3,681.3 765.2,680.4C763.1,679.5 759.5,679.7 757.9,678.3C756.3,676.9 755.6,674.9 755.8,672.1C756.0,669.3 758.0,666.2 759.0,661.7C760.0,657.2 761.2,651.2 762.1,645.0C763.0,638.8 763.7,631.2 764.2,624.2C764.7,617.2 765.0,610.2 765.2,603.3C765.4,596.3 765.4,589.4 765.2,582.5C765.0,575.6 764.4,568.7 764.2,561.7C764.0,554.8 764.0,547.8 763.8,540.8C763.6,533.8 763.1,524.3 763.1,520.0C763.1,515.7 763.7,515.8 763.8,515.0C762.3,513.3 759.0,508.8 755.0,505.0C751.0,501.2 745.2,496.7 740.0,492.5C734.8,488.3 726.5,482.1 723.8,480.0C722.8,482.5 719.8,489.2 717.5,495.0C715.2,500.8 712.6,508.8 710.0,515.0C707.4,521.2 704.8,527.1 701.7,532.5C698.6,537.9 694.0,542.2 691.2,547.1C688.4,552.0 686.1,556.9 685.0,561.7C683.9,566.6 684.2,571.4 684.6,576.2C685.0,581.1 686.0,586.6 687.1,590.8C688.2,595.0 689.5,598.4 691.2,601.2C692.9,604.0 695.1,605.4 697.5,607.5C699.9,609.6 704.0,611.7 705.8,613.8C707.6,615.9 708.3,617.9 708.3,620.0C708.3,622.1 707.9,625.3 705.8,626.2C703.6,627.1 698.9,625.5 695.4,625.2C691.9,624.9 687.8,625.1 685.0,624.2C682.2,623.3 680.2,622.1 678.8,620.0C677.4,617.9 677.4,615.2 676.7,611.7C676.0,608.2 675.7,604.1 674.6,599.2C673.5,594.3 671.8,588.1 670.4,582.5C669.0,576.9 667.2,571.0 666.2,565.8C665.2,560.6 664.2,555.4 664.2,551.2C664.2,547.0 664.1,544.3 666.2,540.8C668.3,537.3 674.4,532.6 676.7,530.4C679.0,528.2 679.2,530.9 680.0,527.5C680.8,524.1 682.0,515.8 681.2,510.0C680.4,504.2 677.3,498.5 675.0,492.5C672.7,486.5 668.8,476.9 667.5,473.8C665.8,477.3 661.2,488.1 657.5,495.0C653.8,501.9 648.8,509.1 645.0,515.0C641.2,520.9 638.8,525.4 635.0,530.4C631.2,535.4 626.3,540.1 622.5,545.0C618.7,549.9 615.1,554.7 612.1,559.6C609.1,564.5 606.7,569.0 604.8,574.2C602.9,579.4 601.5,585.2 600.6,590.8C599.7,596.3 599.4,602.6 599.6,607.5C599.8,612.4 600.3,616.9 601.7,620.0C603.1,623.1 605.8,623.8 607.9,626.2C610.0,628.6 612.6,632.0 614.2,634.6C615.8,637.2 617.6,640.0 617.3,641.9C616.9,643.8 614.4,644.8 612.1,646.0C609.9,647.2 606.6,649.2 603.8,649.2C601.0,649.2 598.2,646.7 595.4,646.0C592.6,645.3 589.2,646.2 587.1,645.0C585.0,643.8 583.3,641.2 582.5,638.8C581.7,636.4 582.4,634.6 582.5,630.4C582.6,626.2 583.2,620.0 583.3,613.8C583.4,607.5 583.0,599.8 582.9,592.9C582.8,586.0 582.3,578.4 582.5,572.1C582.7,565.9 582.4,559.6 584.0,555.4C585.6,551.2 590.5,550.5 592.3,547.1C594.1,543.7 592.9,540.4 595.0,535.0C597.1,529.6 602.1,521.7 605.0,515.0C607.9,508.3 610.6,501.7 612.5,495.0C614.4,488.3 615.4,481.7 616.2,475.0C617.0,468.3 617.1,461.7 617.5,455.0Z" fill="#808285"/>
<path d="M855.5,270.0C855.0,275.2 853.0,296.0 852.5,301.2C858.1,304.3 879.5,317.1 886.2,320.0C892.9,322.9 891.5,319.0 892.5,318.8C892.6,313.4 892.9,291.6 893.0,286.2" fill="none" stroke="#eef0f2" stroke-width="1.6" stroke-linecap="round" stroke-linejoin="round"/>
<path d="M804.0,309.0L803.1,308.8L802.2,308.6L801.3,308.5L800.3,308.3L799.3,308.1L798.2,307.9L797.2,307.8L796.2,307.7L795.1,307.6L794.2,307.5L793.2,307.5L792.3,307.6L791.5,307.7L790.7,307.8L789.8,307.9L789.1,308.1L788.3,308.3L787.5,308.6L786.7,308.8L786.0,309.1L785.3,309.4L784.6,309.7L783.9,310.1L783.2,310.5L782.6,310.9L782.0,311.3L781.5,311.8L780.9,312.3L780.5,312.8L780.0,313.3L779.6,313.8L779.3,314.3L778.9,314.9L778.6,315.5L778.3,316.2L778.1,316.8L777.9,317.5L777.7,318.2L777.6,318.9L777.5,319.7L777.5,320.4L777.5,321.2L777.6,322.0L777.7,322.9L777.8,323.7L778.0,324.6L778.2,325.5L778.5,326.4L778.8,327.4L779.1,328.4L779.5,329.4L779.9,330.4L780.3,331.4L780.8,332.4L781.2,333.5L781.8,334.5L782.3,335.6L782.9,336.6L783.5,337.7L784.2,338.8L784.8,339.8L785.5,340.9L786.2,342.0L787.0,343.1L787.8,344.2L788.6,345.3L789.5,346.4L790.3,347.5L791.2,348.7L792.2,349.8L793.1,350.9L794.1,352.1L795.1,353.2L796.1,354.4L797.1,355.5L798.2,356.7L799.3,357.9L800.4,359.0L801.6,360.3L802.8,361.5L804.0,362.7L805.3,364.0L806.6,365.2L807.9,366.5L809.2,367.7L810.5,368.9L811.8,370.2L813.2,371.3L814.5,372.5L815.8,373.6L817.1,374.7L818.4,375.8L819.6,376.8L820.9,377.8L822.2,378.8L823.5,379.8L824.7,380.7L826.0,381.6L827.3,382.4L828.5,383.3L829.8,384.1L831.1,385.0L832.3,385.8L833.6,386.6L834.8,387.4L836.1,388.2L837.3,389.0L838.6,389.7L839.9,390.5L841.1,391.3L842.4,392.1L843.8,392.9L845.1,393.7L846.4,394.5L847.7,395.2L849.0,396.0L850.3,396.7L851.6,397.4L852.9,398.1L854.1,398.8L855.4,399.4L856.6,400.0L857.8,400.6L858.9,401.1L860.1,401.6L861.2,402.0L862.2,402.5L863.3,402.9L864.3,403.3L865.4,403.6L866.3,403.9L867.3,404.2L868.3,404.5L869.2,404.8L870.1,405.0L871.0,405.3L871.9,405.5L872.8,405.7L873.6,405.9L874.5,406.1L875.3,406.2L876.1,406.4L876.9,406.6L877.8,406.7L878.6,406.9L879.3,407.0L880.1,407.1L880.9,407.2L881.6,407.3L882.4,407.3L883.1,407.3L883.8,407.4L884.5,407.4L885.2,407.3L885.9,407.3L886.5,407.2L887.1,407.1L887.8,406.9L888.4,406.8L888.9,406.6L889.5,406.4L890.0,406.1L890.6,405.9L891.1,405.6L891.6,405.2L892.0,404.9L892.5,404.5L892.9,404.1L893.3,403.7L893.7,403.3L894.0,402.8L894.3,402.3L894.6,401.8L894.9,401.3L895.1,400.7L895.3,400.1L895.5,399.5L895.6,398.9L895.8,398.3L895.9,397.7L895.9,397.1L896.0,396.4L896.0,395.7L896.1,395.1L896.0,394.4L896.0,393.7L896.0,393.0L895.9,392.2L895.8,391.5L895.6,390.7L895.4,389.9L895.2,389.0L895.0,388.2L894.7,387.3L894.4,386.4L894.1,385.6L893.8,384.7L893.4,383.9L893.1,383.0L892.8,382.2L892.5,381.5L892.2,380.7L891.9,380.0L891.6,379.4L891.3,378.7L891.0,378.1L890.7,377.5L890.4,376.9L890.1,376.3L889.8,375.8L889.5,375.2L889.2,374.7L888.9,374.2L888.7,373.8L888.4,373.4L888.2,373.0L888.0,372.6L887.8,372.3L887.7,372.0L887.5,371.8L886.5,376.2L886.8,376.7L887.0,377.2L887.3,377.7L887.5,378.3L887.8,378.9L888.0,379.4L888.2,380.0L888.4,380.6L888.6,381.3L888.9,382.0L889.1,382.7L889.3,383.5L889.6,384.3L889.8,385.1L890.1,385.9L890.3,386.8L890.6,387.6L890.8,388.4L891.0,389.3L891.2,390.0L891.4,390.8L891.5,391.5L891.6,392.2L891.7,392.8L891.8,393.3L891.8,393.9L891.8,394.5L891.8,395.0L891.8,395.6L891.8,396.1L891.8,396.6L891.7,397.1L891.6,397.5L891.5,398.0L891.4,398.4L891.3,398.8L891.2,399.1L891.0,399.5L890.8,399.8L890.7,400.1L890.5,400.4L890.3,400.6L890.1,400.9L889.9,401.1L889.6,401.3L889.4,401.5L889.1,401.7L888.9,401.9L888.6,402.0L888.2,402.2L887.9,402.3L887.5,402.5L887.2,402.6L886.8,402.7L886.3,402.8L885.9,402.8L885.4,402.9L884.9,402.9L884.4,402.9L883.9,402.9L883.3,402.9L882.7,402.9L882.1,402.8L881.4,402.7L880.7,402.6L880.0,402.5L879.3,402.4L878.6,402.2L877.9,402.1L877.1,401.9L876.3,401.7L875.5,401.5L874.7,401.3L873.9,401.1L873.1,400.9L872.2,400.7L871.4,400.4L870.5,400.2L869.7,399.9L868.8,399.6L867.9,399.3L867.0,399.0L866.0,398.6L865.1,398.3L864.1,397.9L863.1,397.5L862.1,397.0L861.1,396.5L860.0,396.0L858.9,395.4L857.7,394.8L856.6,394.2L855.4,393.5L854.1,392.9L852.9,392.1L851.6,391.4L850.3,390.7L849.1,389.9L847.8,389.1L846.5,388.4L845.2,387.6L843.9,386.8L842.7,386.0L841.4,385.3L840.2,384.5L838.9,383.7L837.7,382.9L836.4,382.1L835.2,381.3L833.9,380.5L832.7,379.7L831.5,378.9L830.2,378.1L829.0,377.3L827.8,376.4L826.5,375.5L825.3,374.6L824.1,373.7L822.9,372.8L821.6,371.8L820.4,370.8L819.1,369.7L817.8,368.6L816.6,367.5L815.2,366.4L813.9,365.2L812.6,364.0L811.3,362.8L810.1,361.6L808.8,360.4L807.6,359.2L806.3,358.0L805.1,356.8L804.0,355.6L802.9,354.4L801.8,353.3L800.8,352.2L799.8,351.1L798.8,350.0L797.8,348.9L796.8,347.8L795.9,346.7L795.0,345.6L794.1,344.5L793.3,343.4L792.5,342.4L791.7,341.3L790.9,340.3L790.2,339.2L789.5,338.2L788.9,337.2L788.2,336.2L787.7,335.3L787.1,334.3L786.6,333.3L786.1,332.3L785.6,331.4L785.1,330.4L784.7,329.5L784.3,328.5L783.9,327.6L783.6,326.8L783.3,325.9L783.0,325.1L782.8,324.3L782.6,323.5L782.4,322.8L782.3,322.1L782.2,321.5L782.2,320.9L782.1,320.4L782.1,319.9L782.2,319.4L782.2,319.0L782.3,318.6L782.4,318.2L782.5,317.8L782.7,317.4L782.8,317.0L783.0,316.7L783.2,316.3L783.5,316.0L783.8,315.7L784.1,315.3L784.4,315.0L784.7,314.7L785.1,314.4L785.5,314.1L786.0,313.8L786.5,313.5L787.1,313.2L787.6,312.9L788.2,312.6L788.8,312.4L789.4,312.2L790.1,312.0L790.7,311.8L791.4,311.7L792.0,311.5L792.7,311.4L793.4,311.4L794.1,311.4L794.9,311.4L795.8,311.4L796.8,311.5L797.7,311.6L798.7,311.7L799.7,311.9L800.6,312.0L801.6,312.2L802.5,312.4L803.3,312.5L804.1,312.7L804.8,312.8L805.4,312.9L805.9,313.0Z" fill="#9eb3c7"/>
<path d="M776.8,336.0L776.3,335.6L775.7,335.1L775.1,334.6L774.4,334.1L773.7,333.6L773.0,333.1L772.3,332.7L771.5,332.2L770.8,331.8L770.0,331.5L769.3,331.2L768.5,330.9L767.7,330.6L766.9,330.3L766.1,330.0L765.2,329.7L764.4,329.5L763.5,329.3L762.6,329.1L761.7,328.9L760.8,328.7L759.9,328.6L759.0,328.5L758.1,328.5L757.1,328.5L756.2,328.5L755.4,328.6L754.6,328.7L753.7,328.9L752.9,329.1L752.1,329.3L751.3,329.5L750.5,329.8L749.7,330.2L748.8,330.5L748.0,330.9L747.3,331.3L746.5,331.8L745.7,332.3L744.9,332.9L744.2,333.5L743.4,334.1L742.7,334.7L741.9,335.5L741.2,336.2L740.5,337.0L739.8,337.8L739.0,338.6L738.3,339.5L737.6,340.4L737.0,341.4L736.3,342.4L735.6,343.4L735.0,344.4L734.4,345.4L733.8,346.5L733.2,347.6L732.6,348.7L732.1,349.8L731.6,351.0L731.1,352.2L730.6,353.4L730.1,354.6L729.7,355.8L729.2,357.1L728.8,358.4L728.4,359.7L728.0,361.1L727.7,362.4L727.3,363.8L727.0,365.2L726.6,366.6L726.3,368.0L726.0,369.4L725.8,370.9L725.5,372.4L725.3,373.9L725.0,375.5L724.8,377.1L724.6,378.7L724.4,380.3L724.2,381.9L724.1,383.5L723.9,385.2L723.8,386.8L723.7,388.4L723.6,390.1L723.5,391.7L723.5,393.3L723.4,394.9L723.4,396.5L723.4,398.1L723.3,399.7L723.4,401.3L723.4,402.9L723.4,404.5L723.5,406.1L723.6,407.7L723.7,409.3L723.8,410.8L723.9,412.4L724.0,414.0L724.1,415.6L724.2,417.2L724.4,418.7L724.5,420.3L724.7,421.9L724.9,423.5L725.1,425.1L725.2,426.7L725.5,428.2L725.7,429.8L725.9,431.4L726.1,433.0L726.4,434.6L726.6,436.1L726.9,437.7L727.2,439.3L727.5,440.9L727.7,442.5L728.0,444.1L728.3,445.6L728.7,447.2L729.0,448.8L729.3,450.4L729.7,452.0L730.0,453.6L730.4,455.2L730.8,456.9L731.1,458.5L731.5,460.1L731.9,461.7L732.3,463.2L732.7,464.8L733.1,466.4L733.5,467.9L733.9,469.5L734.4,471.0L734.8,472.5L735.2,474.0L735.6,475.5L736.1,476.9L736.5,478.4L737.0,479.9L737.4,481.3L737.9,482.7L738.4,484.2L738.8,485.6L739.3,487.0L739.8,488.4L740.3,489.8L740.8,491.1L741.3,492.5L741.8,493.9L742.3,495.2L742.8,496.6L743.3,497.9L743.9,499.3L744.4,500.6L745.0,501.9L745.5,503.2L746.1,504.5L746.7,505.8L747.2,507.1L747.8,508.3L748.3,509.5L748.9,510.7L749.4,511.9L749.9,513.0L750.5,514.1L751.0,515.3L751.5,516.4L752.1,517.5L752.6,518.7L753.2,519.8L753.7,520.9L754.3,522.0L754.8,523.0L755.3,524.0L755.8,525.0L756.3,525.9L756.7,526.7L757.1,527.5L757.5,528.2L757.8,528.7L758.0,529.3L761.8,519.5L761.2,518.5L760.7,517.4L760.2,516.3L759.6,515.2L759.1,514.1L758.6,513.0L758.0,511.9L757.5,510.9L757.0,509.8L756.5,508.6L756.0,507.5L755.4,506.3L754.9,505.1L754.3,503.9L753.8,502.6L753.2,501.4L752.6,500.1L752.1,498.9L751.5,497.6L751.0,496.3L750.4,495.0L749.9,493.7L749.4,492.4L748.8,491.1L748.3,489.8L747.8,488.5L747.3,487.2L746.8,485.8L746.3,484.5L745.8,483.1L745.3,481.8L744.8,480.4L744.3,479.0L743.8,477.6L743.3,476.2L742.9,474.8L742.4,473.4L741.9,471.9L741.5,470.5L741.0,469.0L740.6,467.6L740.1,466.1L739.7,464.6L739.3,463.0L738.8,461.5L738.4,460.0L738.0,458.4L737.6,456.9L737.2,455.3L736.8,453.7L736.4,452.2L736.0,450.6L735.7,449.0L735.3,447.5L735.0,445.9L734.7,444.4L734.3,442.8L734.0,441.3L733.8,439.7L733.5,438.2L733.2,436.6L732.9,435.1L732.7,433.6L732.4,432.0L732.2,430.5L732.0,428.9L731.8,427.4L731.6,425.8L731.4,424.3L731.2,422.8L731.0,421.2L730.9,419.7L730.7,418.1L730.6,416.6L730.4,415.0L730.3,413.5L730.2,412.0L730.0,410.4L729.9,408.9L729.8,407.3L729.8,405.8L729.7,404.3L729.6,402.7L729.6,401.2L729.6,399.7L729.6,398.1L729.6,396.6L729.6,395.1L729.6,393.5L729.7,392.0L729.8,390.4L729.8,388.8L729.9,387.2L730.1,385.6L730.2,384.1L730.3,382.5L730.5,380.9L730.6,379.4L730.8,377.8L731.0,376.3L731.2,374.8L731.5,373.4L731.7,372.0L732.0,370.6L732.2,369.2L732.5,367.9L732.8,366.5L733.1,365.2L733.5,363.9L733.8,362.7L734.2,361.4L734.5,360.2L734.9,359.0L735.3,357.8L735.7,356.7L736.2,355.5L736.6,354.4L737.1,353.4L737.5,352.3L738.0,351.3L738.5,350.3L739.0,349.3L739.5,348.4L740.0,347.4L740.6,346.5L741.2,345.6L741.8,344.7L742.3,343.9L742.9,343.1L743.6,342.3L744.2,341.5L744.8,340.8L745.4,340.1L746.0,339.5L746.6,338.9L747.2,338.3L747.8,337.8L748.3,337.3L748.9,336.9L749.5,336.5L750.1,336.1L750.7,335.8L751.2,335.5L751.8,335.2L752.4,334.9L753.0,334.7L753.6,334.5L754.2,334.3L754.9,334.2L755.5,334.1L756.1,333.9L756.8,333.9L757.4,333.8L758.0,333.8L758.7,333.8L759.4,333.9L760.1,333.9L760.8,334.0L761.6,334.2L762.3,334.3L763.1,334.5L763.8,334.7L764.6,334.9L765.3,335.2L766.0,335.4L766.7,335.6L767.4,335.9L768.0,336.1L768.6,336.4L769.1,336.7L769.7,337.0L770.3,337.4L770.8,337.7L771.4,338.2L772.0,338.6L772.6,339.0L773.1,339.5L773.6,339.9L774.1,340.3L774.6,340.7L775.1,341.1L775.5,341.4L775.9,341.7L776.2,342.0Z" fill="#9eb3c7"/>
<path d="M814.1,519.0L813.9,519.5L813.6,520.0L813.3,520.7L813.0,521.4L812.6,522.1L812.2,522.9L811.8,523.8L811.3,524.6L810.8,525.5L810.3,526.4L809.8,527.3L809.4,528.1L808.9,528.9L808.4,529.6L808.0,530.3L807.5,530.9L807.1,531.5L806.7,532.1L806.3,532.7L805.8,533.3L805.4,533.9L805.0,534.4L804.6,534.9L804.1,535.5L803.7,536.0L803.3,536.5L802.9,536.9L802.5,537.4L802.1,537.8L801.6,538.2L801.2,538.6L800.8,539.0L800.4,539.3L800.0,539.6L799.5,539.9L799.0,540.2L798.5,540.5L797.9,540.7L797.4,541.0L796.8,541.2L794.7,547.3L795.0,547.2L795.3,547.1L795.7,547.0L796.2,546.8L796.7,546.6L797.3,546.5L797.9,546.3L798.6,546.1L799.3,545.8L799.9,545.6L800.7,545.3L801.4,545.0L802.1,544.6L802.8,544.3L803.5,543.9L804.2,543.4L804.8,543.0L805.4,542.5L805.9,542.0L806.5,541.5L807.1,541.0L807.6,540.5L808.1,539.9L808.7,539.3L809.2,538.7L809.7,538.1L810.2,537.5L810.7,536.8L811.1,536.2L811.6,535.5L812.0,534.8L812.5,534.1L812.9,533.3L813.4,532.4L813.8,531.5L814.2,530.6L814.6,529.7L815.1,528.7L815.4,527.7L815.8,526.8L816.2,525.8L816.6,524.9L816.9,524.1Z" fill="#9eb3c7"/>
<path d="M841.5,554.0C842.6,551.2 843.2,547.0 844.5,543.5C845.8,540.0 847.2,536.5 849.0,533.0C850.8,529.5 852.8,525.8 855.0,522.5C857.2,519.2 860.0,516.4 862.5,513.5C865.0,510.6 867.2,507.9 870.0,505.2C872.8,502.4 876.0,499.4 879.0,497.0C882.0,494.6 884.5,492.9 888.0,491.0C891.5,489.1 895.5,487.4 900.0,485.7C904.5,483.9 910.0,482.1 915.0,480.5C920.0,478.9 925.0,477.6 930.0,476.0C935.0,474.4 940.4,472.7 945.0,470.7C949.6,468.7 953.3,466.4 957.5,463.8C961.7,461.2 965.8,458.1 970.0,455.0C974.2,451.9 978.8,447.9 982.5,445.0C986.2,442.1 989.6,440.0 992.5,437.5C995.4,435.0 997.1,433.3 1000.0,430.0C1002.9,426.7 1006.7,422.1 1010.0,417.5C1013.3,412.9 1017.1,407.5 1020.0,402.5C1022.9,397.5 1025.0,392.5 1027.5,387.5C1030.0,382.5 1032.5,377.1 1035.0,372.5C1037.5,367.9 1040.0,363.3 1042.5,360.0C1045.0,356.7 1047.9,354.8 1050.0,352.5C1052.1,350.2 1054.2,347.2 1055.0,346.2C1054.8,344.8 1054.2,340.4 1053.8,337.5C1053.4,334.6 1052.1,331.1 1052.5,328.8C1052.9,326.5 1054.1,325.3 1056.2,323.8C1058.3,322.3 1061.0,321.0 1065.0,320.0C1069.0,319.0 1075.0,318.2 1080.0,318.0C1085.0,317.8 1090.4,318.1 1095.0,318.8C1099.6,319.6 1103.3,320.8 1107.5,322.5C1111.7,324.2 1116.2,326.3 1120.0,328.8C1123.8,331.3 1127.5,334.4 1130.0,337.5C1132.5,340.6 1133.3,344.8 1135.0,347.5C1136.7,350.2 1137.5,352.4 1140.0,353.8C1142.5,355.2 1146.2,356.0 1150.0,356.2C1153.8,356.4 1159.0,355.0 1162.5,355.0C1166.0,355.0 1169.2,355.2 1171.2,356.2C1173.2,357.2 1174.1,358.9 1174.5,361.2C1174.9,363.5 1174.3,366.9 1173.8,370.0C1173.2,373.1 1172.7,376.7 1171.2,380.0C1169.7,383.3 1167.7,387.1 1165.0,390.0C1162.3,392.9 1158.3,395.0 1155.0,397.5C1151.7,400.0 1147.9,402.7 1145.0,405.0C1142.1,407.3 1140.0,410.4 1137.5,411.2C1135.0,412.0 1132.5,409.8 1130.0,410.0C1127.5,410.2 1124.8,410.8 1122.5,412.5C1120.2,414.2 1118.1,417.1 1116.2,420.0C1114.3,422.9 1112.9,426.2 1111.2,430.0C1109.5,433.8 1107.9,437.9 1106.2,442.5C1104.5,447.1 1102.7,452.5 1101.2,457.5C1099.8,462.5 1098.7,467.5 1097.5,472.5C1096.3,477.5 1094.6,482.9 1093.8,487.5C1093.0,492.1 1092.5,495.4 1092.5,500.0C1092.5,504.6 1093.6,510.0 1093.8,515.0C1094.0,520.0 1094.2,525.0 1093.8,530.0C1093.4,535.0 1091.5,543.3 1091.2,545.0C1090.9,546.7 1092.0,539.9 1091.8,540.0C1091.6,540.1 1090.9,542.5 1090.0,545.5C1089.1,548.5 1087.5,553.7 1086.3,558.3C1085.1,562.9 1083.8,568.1 1082.7,573.0C1081.6,577.9 1081.0,582.2 1079.9,587.7C1078.8,593.2 1077.4,599.9 1076.3,606.0C1075.2,612.1 1074.3,618.2 1073.5,624.3C1072.7,630.4 1072.2,636.9 1071.7,642.7C1071.2,648.5 1070.8,654.0 1070.8,659.2C1070.8,664.4 1071.0,669.5 1071.7,673.8C1072.5,678.1 1073.8,681.7 1075.3,684.8C1076.8,687.9 1078.6,690.1 1080.8,692.2C1083.0,694.4 1085.9,695.9 1088.2,697.7C1090.5,699.5 1093.1,701.2 1094.6,703.2C1096.1,705.2 1097.4,707.8 1097.3,709.6C1097.2,711.4 1095.8,713.1 1093.7,714.2C1091.6,715.3 1087.9,715.7 1084.5,716.0C1081.1,716.3 1076.5,716.6 1073.5,716.0C1070.5,715.4 1068.0,714.1 1066.2,712.3C1064.4,710.5 1063.6,707.8 1062.5,705.0C1061.4,702.2 1060.7,699.2 1059.8,695.8C1058.9,692.4 1057.9,688.3 1057.0,684.8C1056.1,681.3 1054.8,676.5 1054.3,674.8C1053.5,674.2 1050.8,672.5 1049.7,671.1C1048.6,669.7 1048.1,667.3 1047.8,666.5C1048.3,665.3 1049.8,662.0 1050.6,659.2C1051.4,656.5 1052.4,654.6 1052.4,650.0C1052.4,645.4 1051.2,637.8 1050.6,631.7C1050.0,625.6 1048.9,619.4 1048.8,613.3C1048.7,607.2 1049.7,601.0 1049.7,595.0C1049.7,589.0 1049.0,580.5 1048.8,577.6C1047.4,578.7 1043.0,581.1 1040.5,584.0C1038.0,586.9 1035.5,590.1 1034.1,595.0C1032.7,599.9 1032.6,607.2 1032.3,613.3C1032.0,619.4 1032.3,625.6 1032.3,631.7C1032.3,637.8 1032.1,643.9 1032.3,650.0C1032.5,656.1 1032.8,662.2 1033.2,668.3C1033.7,674.4 1034.1,680.6 1035.0,686.7C1035.9,692.8 1037.2,699.8 1038.7,705.0C1040.2,710.2 1042.1,714.1 1044.2,717.8C1046.3,721.5 1049.4,723.9 1051.5,727.0C1053.6,730.1 1056.2,733.5 1057.0,736.2C1057.8,739.0 1057.6,741.4 1056.1,743.5C1054.6,745.6 1051.3,747.8 1047.8,749.0C1044.3,750.2 1039.0,751.1 1035.0,750.8C1031.0,750.5 1027.0,749.0 1024.0,747.2C1021.0,745.4 1018.5,742.5 1016.7,739.8C1014.9,737.0 1013.9,734.1 1013.0,730.7C1012.1,727.4 1011.7,723.4 1011.2,719.7C1010.8,716.0 1010.6,712.1 1010.3,708.7C1010.0,705.3 1009.9,703.2 1009.3,699.5C1008.7,695.8 1007.4,691.9 1006.6,686.7C1005.9,681.5 1005.6,674.4 1004.8,668.3C1004.0,662.2 1002.9,656.1 1002.0,650.0C1001.1,643.9 1000.1,637.8 999.3,631.7C998.5,625.6 997.9,619.7 997.4,613.3C996.9,606.9 996.6,596.6 996.5,593.2C995.8,593.1 995.2,593.5 992.5,592.5C989.8,591.5 985.4,589.2 980.0,587.5C974.6,585.8 965.8,583.8 960.0,582.5C954.2,581.2 947.1,580.5 945.0,580.0C942.9,579.5 947.1,579.6 947.5,579.5C947.2,580.5 947.0,583.0 946.0,585.5C945.0,588.0 943.5,591.2 941.5,594.5C939.5,597.8 936.8,601.5 934.0,605.0C931.2,608.5 927.4,612.2 925.0,615.5C922.6,618.8 920.7,621.2 919.7,624.5C918.7,627.8 918.8,631.5 919.0,635.0C919.2,638.5 920.2,642.2 921.2,645.5C922.2,648.8 923.6,652.0 925.0,654.5C926.4,657.0 927.5,658.9 929.5,660.5C931.5,662.1 934.8,663.0 937.0,664.2C939.2,665.5 941.9,666.4 943.0,668.0C944.1,669.6 944.2,672.4 943.7,674.0C943.2,675.6 942.6,677.0 940.0,677.7C937.4,678.5 931.2,678.9 928.0,678.5C924.8,678.1 922.5,677.0 920.5,675.5C918.5,674.0 917.5,672.2 916.0,669.5C914.5,666.8 913.1,663.0 911.5,659.0C909.9,655.0 907.8,649.5 906.2,645.5C904.6,641.5 903.1,638.0 901.7,635.0C900.3,632.0 898.5,629.5 898.0,627.5C897.5,625.5 897.7,625.0 898.7,623.0C899.7,621.0 902.4,618.5 904.0,615.5C905.6,612.5 907.5,608.8 908.5,605.0C909.5,601.2 910.0,596.8 910.0,593.0C910.0,589.2 910.0,585.8 908.5,582.5C907.0,579.2 903.5,576.5 901.0,573.5C898.5,570.5 894.8,566.0 893.5,564.5C892.2,565.8 888.8,569.0 886.0,572.0C883.2,575.0 879.1,578.2 877.0,582.5C874.9,586.8 874.5,592.5 873.2,597.5C872.0,602.5 870.9,607.8 869.5,612.5C868.1,617.2 865.8,623.8 865.0,626.0C862.5,625.0 854.1,621.8 850.0,620.0C845.9,618.2 841.8,616.2 840.2,615.5C839.3,616.0 837.1,616.5 835.0,618.5C832.9,620.5 829.6,623.8 827.5,627.5C825.4,631.2 823.5,636.8 822.2,641.0C821.0,645.2 820.5,649.2 820.0,653.0C819.5,656.8 819.1,660.8 819.2,663.5C819.3,666.2 820.2,667.8 820.7,669.5C821.2,671.2 822.3,672.4 822.2,674.0C822.1,675.6 821.4,678.0 820.0,679.2C818.6,680.5 816.5,681.2 814.0,681.5C811.5,681.8 807.2,681.5 805.0,680.7C802.8,680.0 801.5,679.1 800.8,677.0C800.0,674.9 800.2,671.5 800.5,668.0C800.8,664.5 801.7,660.0 802.7,656.0C803.7,652.0 805.4,648.0 806.5,644.0C807.6,640.0 808.9,635.5 809.5,632.0C810.1,628.5 809.7,626.0 810.2,623.0C810.7,620.0 810.9,617.0 812.5,614.0C814.1,611.0 817.5,609.0 820.0,605.0C822.5,601.0 825.2,595.0 827.5,590.0C829.8,585.0 831.8,580.0 833.5,575.0C835.2,570.0 836.7,563.5 838.0,560.0C839.3,556.5 840.4,556.8 841.5,554.0Z" fill="#8b8b8c"/>
<path d="M1056.2,337.5C1057.7,339.2 1061.5,343.9 1065.0,347.5C1068.5,351.1 1072.7,356.7 1077.5,358.8C1082.3,360.9 1091.1,359.8 1093.8,360.0C1093.6,354.4 1092.7,331.8 1092.5,326.2" fill="none" stroke="#eef0f2" stroke-width="1.6" stroke-linecap="round" stroke-linejoin="round"/>
<path d="M1014.0,399.5L1013.4,399.6L1012.7,399.6L1012.1,399.6L1011.4,399.7L1010.7,399.8L1010.0,399.9L1009.3,400.0L1008.7,400.1L1008.0,400.3L1007.3,400.5L1006.7,400.8L1006.1,401.1L1005.6,401.4L1005.1,401.7L1004.6,402.0L1004.0,402.4L1003.5,402.8L1003.0,403.2L1002.6,403.6L1002.1,404.1L1001.6,404.6L1001.2,405.1L1000.8,405.6L1000.4,406.1L1000.0,406.7L999.7,407.3L999.3,407.9L999.1,408.6L998.8,409.2L998.5,409.9L998.3,410.6L998.1,411.3L997.9,412.0L997.7,412.7L997.6,413.5L997.4,414.3L997.3,415.1L997.2,415.9L997.2,416.7L997.1,417.6L997.1,418.5L997.2,419.3L997.2,420.2L997.3,421.1L997.4,422.1L997.6,423.0L997.8,424.0L998.0,424.9L998.2,425.9L998.4,426.9L998.7,427.9L999.0,428.9L999.3,430.0L999.7,431.0L1000.0,432.0L1000.4,433.0L1000.8,434.0L1001.2,435.0L1001.6,436.0L1002.0,436.9L1002.5,437.9L1002.9,438.9L1003.4,439.8L1003.9,440.8L1004.5,441.8L1005.0,442.8L1005.6,443.7L1006.1,444.7L1006.7,445.6L1007.3,446.6L1007.9,447.6L1008.5,448.5L1009.2,449.5L1009.8,450.5L1010.5,451.4L1011.2,452.4L1011.9,453.3L1012.6,454.3L1013.3,455.3L1014.1,456.3L1014.9,457.3L1015.6,458.3L1016.4,459.2L1017.3,460.2L1018.1,461.2L1018.9,462.1L1019.8,463.1L1020.6,464.0L1021.5,465.0L1022.3,465.9L1023.2,466.8L1024.1,467.7L1025.0,468.5L1025.8,469.4L1026.7,470.2L1027.6,471.1L1028.5,471.9L1029.4,472.7L1030.4,473.5L1031.3,474.3L1032.3,475.1L1033.3,475.9L1034.3,476.7L1035.3,477.4L1036.4,478.2L1037.5,479.0L1038.6,479.7L1039.7,480.4L1040.9,481.1L1042.1,481.9L1043.4,482.6L1044.6,483.3L1045.9,483.9L1047.2,484.6L1048.5,485.3L1049.8,485.9L1051.2,486.5L1052.5,487.1L1053.8,487.7L1055.1,488.3L1056.4,488.9L1057.7,489.4L1059.0,490.0L1060.3,490.5L1061.6,491.0L1062.9,491.5L1064.2,491.9L1065.5,492.4L1066.8,492.8L1068.1,493.3L1069.4,493.7L1070.7,494.1L1072.0,494.4L1073.2,494.8L1074.5,495.1L1075.8,495.4L1077.0,495.7L1078.3,496.0L1079.5,496.2L1080.7,496.5L1081.9,496.7L1083.2,496.8L1084.4,497.0L1085.6,497.2L1086.8,497.3L1088.0,497.4L1089.2,497.5L1090.4,497.5L1091.5,497.6L1092.6,497.6L1093.7,497.6L1094.8,497.5L1095.8,497.5L1096.8,497.4L1097.8,497.2L1098.7,497.1L1099.6,496.9L1100.5,496.7L1101.3,496.4L1102.1,496.1L1102.9,495.8L1103.6,495.5L1104.3,495.1L1105.0,494.7L1105.7,494.3L1106.3,493.9L1106.9,493.5L1107.5,493.0L1108.0,492.5L1108.5,492.0L1109.0,491.5L1109.6,490.9L1110.0,490.3L1110.5,489.7L1110.9,489.1L1111.3,488.4L1111.7,487.7L1112.1,487.0L1112.4,486.3L1112.7,485.6L1113.0,484.9L1113.3,484.1L1113.5,483.4L1113.7,482.6L1113.8,481.8L1114.0,481.0L1114.1,480.2L1114.1,479.4L1114.1,478.5L1114.1,477.6L1114.0,476.7L1113.9,475.8L1113.7,474.9L1113.5,474.0L1113.3,473.1L1113.1,472.3L1112.9,471.4L1112.6,470.6L1112.4,469.8L1112.2,469.1L1112.0,468.4L1111.8,467.7L1111.6,467.1L1111.4,466.5L1111.2,465.9L1111.0,465.3L1110.8,464.8L1110.6,464.3L1110.4,463.8L1110.2,463.4L1110.0,462.9L1109.8,462.5L1109.6,462.2L1109.5,461.8L1109.3,461.5L1109.2,461.2L1109.1,461.0L1109.0,460.8L1108.9,460.6L1107.4,464.6L1107.6,465.0L1107.7,465.4L1107.9,465.9L1108.0,466.3L1108.2,466.8L1108.3,467.4L1108.4,467.9L1108.5,468.5L1108.7,469.2L1108.8,469.9L1109.0,470.7L1109.1,471.5L1109.3,472.3L1109.4,473.1L1109.6,473.9L1109.7,474.7L1109.8,475.5L1109.9,476.3L1109.9,477.1L1110.0,477.8L1110.0,478.5L1110.0,479.2L1109.9,479.8L1109.8,480.4L1109.7,481.0L1109.6,481.6L1109.4,482.2L1109.3,482.8L1109.0,483.4L1108.8,484.0L1108.6,484.6L1108.3,485.2L1108.0,485.7L1107.7,486.2L1107.4,486.7L1107.1,487.2L1106.7,487.7L1106.3,488.1L1106.0,488.5L1105.5,488.9L1105.1,489.3L1104.7,489.7L1104.2,490.0L1103.8,490.4L1103.3,490.7L1102.8,491.0L1102.3,491.3L1101.8,491.5L1101.2,491.8L1100.6,492.0L1100.0,492.2L1099.3,492.4L1098.7,492.5L1097.9,492.7L1097.2,492.8L1096.4,492.8L1095.5,492.9L1094.6,492.9L1093.7,493.0L1092.7,492.9L1091.7,492.9L1090.6,492.8L1089.5,492.8L1088.4,492.6L1087.3,492.5L1086.2,492.4L1085.1,492.2L1083.9,492.0L1082.8,491.8L1081.6,491.6L1080.5,491.4L1079.4,491.1L1078.2,490.8L1077.0,490.5L1075.8,490.2L1074.6,489.9L1073.4,489.5L1072.2,489.1L1070.9,488.7L1069.7,488.3L1068.5,487.9L1067.2,487.4L1066.0,487.0L1064.7,486.5L1063.5,486.0L1062.2,485.5L1061.0,485.0L1059.8,484.5L1058.5,484.0L1057.2,483.5L1056.0,482.9L1054.7,482.3L1053.4,481.7L1052.1,481.1L1050.9,480.5L1049.6,479.9L1048.3,479.3L1047.1,478.6L1045.9,478.0L1044.7,477.3L1043.6,476.6L1042.5,476.0L1041.4,475.3L1040.4,474.6L1039.4,473.9L1038.4,473.2L1037.4,472.5L1036.4,471.8L1035.5,471.1L1034.6,470.4L1033.7,469.6L1032.8,468.8L1031.9,468.1L1031.1,467.3L1030.2,466.5L1029.3,465.7L1028.5,464.9L1027.6,464.1L1026.8,463.2L1025.9,462.4L1025.1,461.5L1024.3,460.6L1023.5,459.7L1022.7,458.8L1021.8,457.9L1021.1,457.0L1020.3,456.1L1019.5,455.1L1018.7,454.2L1018.0,453.3L1017.3,452.3L1016.5,451.4L1015.8,450.4L1015.2,449.5L1014.5,448.6L1013.8,447.7L1013.2,446.8L1012.6,445.8L1012.0,444.9L1011.4,444.0L1010.8,443.1L1010.3,442.2L1009.7,441.3L1009.2,440.4L1008.7,439.5L1008.2,438.6L1007.7,437.7L1007.3,436.7L1006.8,435.8L1006.4,434.9L1006.0,434.0L1005.6,433.1L1005.2,432.2L1004.9,431.3L1004.5,430.3L1004.2,429.4L1003.9,428.5L1003.6,427.5L1003.3,426.6L1003.0,425.7L1002.8,424.8L1002.5,423.9L1002.3,423.0L1002.2,422.2L1002.0,421.3L1001.9,420.5L1001.8,419.8L1001.7,419.0L1001.6,418.3L1001.6,417.6L1001.6,416.9L1001.6,416.2L1001.7,415.5L1001.7,414.9L1001.8,414.2L1001.9,413.6L1002.0,413.0L1002.2,412.4L1002.3,411.8L1002.5,411.2L1002.7,410.7L1002.9,410.1L1003.1,409.7L1003.3,409.2L1003.5,408.8L1003.7,408.3L1004.0,407.9L1004.3,407.5L1004.6,407.2L1004.9,406.8L1005.3,406.4L1005.6,406.1L1006.0,405.8L1006.4,405.5L1006.7,405.2L1007.1,404.9L1007.5,404.6L1007.9,404.4L1008.3,404.2L1008.7,404.0L1009.1,403.9L1009.6,403.7L1010.1,403.6L1010.6,403.5L1011.2,403.4L1011.8,403.3L1012.4,403.3L1013.0,403.2L1013.6,403.2L1014.1,403.1L1014.7,403.1L1015.2,403.1L1015.6,403.1L1016.1,403.0L1016.4,403.0Z" fill="#9eb3c7"/>
<path d="M986.5,434.6L986.0,434.3L985.5,434.0L985.0,433.7L984.4,433.5L983.9,433.2L983.3,432.9L982.7,432.7L982.1,432.6L981.6,432.4L981.1,432.3L980.7,432.2L980.1,432.1L979.6,432.1L979.1,432.0L978.6,431.9L978.0,431.9L977.5,431.9L976.9,431.9L976.3,432.0L975.7,432.0L975.1,432.1L974.5,432.2L973.9,432.3L973.3,432.5L972.7,432.7L972.0,432.9L971.4,433.1L970.7,433.3L970.0,433.6L969.3,433.8L968.6,434.1L967.9,434.5L967.1,434.8L966.4,435.2L965.7,435.6L965.0,436.0L964.3,436.4L963.6,436.9L962.9,437.4L962.2,437.9L961.6,438.4L961.0,439.0L960.4,439.5L959.8,440.1L959.3,440.7L958.7,441.4L958.2,442.0L957.7,442.7L957.2,443.4L956.7,444.1L956.2,444.8L955.7,445.5L955.2,446.3L954.8,447.1L954.3,447.9L953.9,448.7L953.5,449.5L953.1,450.4L952.7,451.2L952.3,452.1L951.9,453.0L951.5,454.0L951.1,454.9L950.8,455.9L950.5,456.9L950.1,457.9L949.8,459.0L949.5,460.0L949.3,461.1L949.0,462.2L948.8,463.3L948.5,464.5L948.3,465.6L948.2,466.8L948.0,468.0L947.9,469.3L947.8,470.5L947.6,471.8L947.6,473.1L947.5,474.4L947.4,475.7L947.4,477.0L947.3,478.3L947.3,479.6L947.2,481.0L947.2,482.3L947.2,483.7L947.2,485.0L947.2,486.4L947.2,487.7L947.2,489.1L947.3,490.5L947.3,492.0L947.4,493.4L947.4,494.8L947.5,496.3L947.6,497.7L947.7,499.2L947.7,500.6L947.9,502.1L948.0,503.5L948.1,505.0L948.2,506.4L948.4,507.8L948.5,509.3L948.7,510.7L948.9,512.1L949.1,513.6L949.3,515.0L949.5,516.4L949.7,517.8L949.9,519.3L950.2,520.7L950.4,522.1L950.7,523.6L951.0,525.0L951.2,526.4L951.5,527.8L951.8,529.3L952.1,530.7L952.5,532.1L952.8,533.6L953.1,535.0L953.5,536.5L953.9,537.9L954.3,539.4L954.7,540.8L955.1,542.3L955.5,543.7L955.9,545.2L956.3,546.6L956.7,548.0L957.1,549.4L957.5,550.8L957.9,552.2L958.4,553.5L958.8,554.9L959.2,556.2L959.6,557.5L960.1,558.8L960.5,560.1L960.9,561.4L961.4,562.7L961.8,564.0L962.3,565.3L962.7,566.6L963.2,567.8L963.7,569.1L964.2,570.3L964.7,571.5L965.2,572.8L965.7,574.0L966.3,575.2L966.8,576.4L967.4,577.7L968.0,578.9L968.6,580.1L969.2,581.3L969.8,582.5L970.4,583.6L971.1,584.8L971.7,585.9L972.3,587.0L972.9,588.1L973.5,589.1L974.1,590.1L974.7,591.1L975.2,592.0L975.8,592.9L976.3,593.8L976.9,594.7L977.5,595.5L978.0,596.3L978.6,597.0L979.1,597.8L979.6,598.5L980.1,599.2L980.6,599.8L981.1,600.4L981.6,601.1L982.1,601.7L982.5,602.2L983.0,602.8L983.4,603.4L983.8,604.0L984.3,604.5L984.8,605.1L985.2,605.7L985.6,606.2L986.1,606.7L986.5,607.2L986.9,607.7L987.3,608.2L987.6,608.6L988.0,609.0L988.3,609.4L988.6,609.8L988.9,610.2L989.1,610.5L989.3,610.8L989.5,611.1L989.7,611.3L989.9,611.5L990.0,611.8L990.1,612.0L990.2,612.2L990.3,612.3L990.4,612.5L990.5,612.6L990.6,612.8L990.6,613.0L990.7,613.1L990.8,613.3L990.9,613.5L991.0,613.7L991.1,613.9L993.6,603.7L993.3,603.2L992.9,602.7L992.5,602.3L992.1,601.8L991.7,601.3L991.3,600.8L990.9,600.3L990.4,599.7L990.0,599.2L989.6,598.6L989.1,598.0L988.7,597.4L988.2,596.8L987.7,596.2L987.3,595.6L986.8,595.0L986.3,594.4L985.8,593.8L985.3,593.1L984.8,592.5L984.3,591.8L983.8,591.1L983.3,590.3L982.8,589.6L982.3,588.8L981.8,588.0L981.2,587.1L980.7,586.2L980.1,585.2L979.5,584.2L978.9,583.2L978.3,582.1L977.6,581.1L977.0,580.0L976.4,578.9L975.8,577.8L975.2,576.7L974.6,575.5L974.0,574.4L973.4,573.3L972.8,572.1L972.3,571.0L971.8,569.9L971.2,568.7L970.7,567.6L970.2,566.4L969.7,565.2L969.2,564.0L968.8,562.8L968.3,561.6L967.8,560.4L967.3,559.2L966.9,557.9L966.4,556.6L966.0,555.4L965.5,554.1L965.1,552.8L964.6,551.5L964.2,550.2L963.8,548.8L963.3,547.5L962.9,546.1L962.5,544.7L962.0,543.3L961.6,541.9L961.2,540.5L960.8,539.1L960.4,537.7L960.1,536.3L959.7,534.9L959.4,533.5L959.0,532.1L958.7,530.7L958.4,529.3L958.1,527.9L957.8,526.5L957.5,525.2L957.2,523.8L956.9,522.4L956.7,521.0L956.4,519.6L956.2,518.2L956.0,516.8L955.7,515.5L955.5,514.1L955.3,512.7L955.1,511.3L954.9,509.9L954.8,508.5L954.6,507.2L954.5,505.8L954.3,504.4L954.2,503.0L954.0,501.6L953.9,500.2L953.8,498.7L953.7,497.3L953.6,495.9L953.6,494.5L953.5,493.1L953.4,491.7L953.4,490.4L953.3,489.0L953.3,487.6L953.3,486.3L953.3,485.0L953.3,483.7L953.3,482.4L953.3,481.1L953.3,479.8L953.4,478.5L953.4,477.2L953.4,475.9L953.5,474.7L953.6,473.5L953.6,472.3L953.7,471.1L953.9,469.9L954.0,468.8L954.1,467.7L954.3,466.6L954.5,465.5L954.6,464.5L954.9,463.5L955.1,462.5L955.3,461.5L955.6,460.6L955.9,459.7L956.1,458.7L956.4,457.8L956.7,457.0L957.0,456.1L957.4,455.3L957.7,454.4L958.0,453.6L958.4,452.8L958.7,452.1L959.1,451.3L959.5,450.6L959.8,449.9L960.2,449.2L960.6,448.5L961.0,447.9L961.4,447.3L961.8,446.7L962.2,446.1L962.6,445.5L963.1,445.0L963.5,444.4L963.9,443.9L964.4,443.4L964.8,443.0L965.3,442.5L965.8,442.1L966.2,441.7L966.7,441.3L967.3,440.9L967.8,440.6L968.4,440.2L968.9,439.9L969.5,439.6L970.1,439.3L970.7,439.0L971.3,438.7L971.9,438.5L972.5,438.2L973.1,438.0L973.7,437.8L974.2,437.7L974.7,437.5L975.2,437.4L975.6,437.3L976.0,437.2L976.4,437.1L976.8,437.1L977.2,437.0L977.5,437.0L977.9,437.0L978.3,437.0L978.6,437.1L979.0,437.1L979.4,437.1L979.7,437.2L980.1,437.3L980.5,437.4L980.9,437.4L981.2,437.5L981.5,437.6L981.9,437.8L982.2,438.0L982.7,438.2L983.1,438.4L983.5,438.6L983.9,438.9L984.3,439.1L984.7,439.4L985.1,439.6L985.5,439.9L985.8,440.1L986.2,440.3L986.5,440.5L986.8,440.7Z" fill="#9eb3c7"/>
<path d="M1041.2,584.9L1041.0,585.2L1040.8,585.7L1040.6,586.2L1040.3,586.7L1040.0,587.3L1039.6,588.0L1039.3,588.7L1038.9,589.4L1038.5,590.2L1038.0,590.9L1037.6,591.7L1037.2,592.6L1036.8,593.4L1036.5,594.2L1036.1,595.1L1035.8,595.9L1035.6,596.8L1035.3,597.8L1035.1,598.7L1034.9,599.8L1034.8,600.8L1034.6,601.8L1034.5,602.9L1034.3,603.9L1034.2,604.9L1034.1,605.9L1038.4,611.1L1038.5,610.6L1038.6,610.0L1038.7,609.3L1038.9,608.5L1039.1,607.7L1039.3,606.8L1039.5,605.8L1039.7,604.9L1039.9,603.9L1040.2,602.9L1040.4,602.0L1040.7,601.0L1040.9,600.1L1041.2,599.2L1041.4,598.4L1041.6,597.7L1041.8,596.9L1042.0,596.2L1042.2,595.4L1042.4,594.6L1042.7,593.8L1043.0,593.0L1043.2,592.2L1043.5,591.5L1043.8,590.7L1044.0,590.0Z" fill="#9eb3c7"/>
<path fill="#6c8aa8" fill-rule="evenodd" d="M603.4 32.6H624L627.2 35.8V71L624 74.2H603.4L600.2 71V35.8ZM610.5 41.5H617.2V65.2H610.5ZM633.5 36.2H643.6V43.2H648V51H643.6V66H648V74.2H635.7L633.5 72V51H630V43.2H633.5ZM650.5 32.6H660.8V43.2H674.3L676.5 45.4V74.2H666.2V51.8H660.8V74.2H650.5ZM682.2 43.2H704.3L706.5 45.4V63.5H690.6V66.2H706.5V72L704.3 74.2H682.2L680 72V45.4ZM690.6 50.6H696.1V56H690.6ZM708 43.2H727.3V52.2H718.8V74.2H708ZM745.5 43.2H759V32.6H769.3V74.2H745.5L743.3 72V45.4ZM753.9 51.7H758.8V65.7H753.9ZM775.5 43.2H797.1L799.3 45.4V72L797.1 74.2H775.5L773.3 72V45.4ZM783.9 51.7H788.8V65.7H783.9ZM805.5 43.2H829.3V82.1L827.1 84.3H804.5V76.7H819V74.2H805.5L803.3 72V45.4ZM813.9 51.7H818.8V65.7H813.9ZM847 32.6H857.3V43.2H870.6L872.8 45.4V72L870.6 74.2H847ZM857.4 51.7H862.2V65.7H857.4ZM876.7 43.2H894V52.2H887.5V74.2H876.7ZM898.9 43.2H920.5L922.7 45.4V63.5H907.3V66.2H922.7V72L920.5 74.2H898.9L896.7 72V45.4ZM907.3 50.6H912.3V56H907.3ZM928.9 43.2H950.5L952.7 45.4V63.5H937.3V66.2H952.7V72L950.5 74.2H928.9L926.7 72V45.4ZM937.3 50.6H942.3V56H937.3ZM958.9 43.2H972.4V32.6H982.7V74.2H958.9L956.7 72V45.4ZM967.3 51.7H972.2V65.7H967.3ZM988.9 43.2H1009.5L1011.7 45.4V50H997.5V53.3H1009.5L1011.7 55.5V72L1009.5 74.2H988.9L986.7 72V67.5H1000V64.2H988.9L986.7 62V45.4ZM1034.7 32.6H1047.5V39.8H1044V43.2H1047.5V51H1044V74.2H1032.5V51H1028.3V43.2H1032.5V34.8ZM1053 43.2H1075.3L1077.5 45.4V72L1075.3 74.2H1053L1050.8 72V45.4ZM1061.4 51.7H1067V65.7H1061.4ZM1080.8 43.2H1097.5V52.2H1091.6V74.2H1080.8ZM1147.5 32.6H1157.5V65.8H1165.8V74.2H1147.5Z"/><path fill="#6c8aa8" d="M1110.8 32.6H1122.4L1143.3 74.2H1131.7Z"/><path fill="#6c8aa8" d="M1131.7 32.6H1143.3L1122.4 74.2H1110.8Z"/>
</svg>
<div id="breeds" class="abs">Alaskan Malamute / Irish Wolfhound /<br>Bull Mastiff / Leonberger / Otter Hound /<br>Pyrenean Mastiff / Spanish Mastiff /<br>Akita / Sheepdog.</div>

<div class="abs name" style="left:27px;top:468.5px">Mastiffs</div>
<div class="abs name" style="left:224.5px;top:624px">Great Dane</div>
<div class="abs name" style="left:579px;top:661.6px">Boxer</div>
<div class="abs name" style="left:810px;top:696.5px">Rottweiler</div>

<div class="abs lbl" style="left:159.9px;top:220.2px">CHEST<br>GIRTH</div>
<div class="abs lbl" style="left:446.7px;top:212.2px">NECK<br>GIRTH</div>
<div class="abs lbl" style="left:425.4px;top:342.5px">CHEST<br>GIRTH</div>
<div class="abs lbl" style="left:675.7px;top:302.3px">NECK<br>GIRTH</div>
<div class="abs lbl" style="left:674.2px;top:398.0px">CHEST<br>GIRTH</div>
<div class="abs lbl" style="left:908.0px;top:374.2px">NECK<br>GIRTH</div>
<div class="abs lbl" style="left:889.9px;top:504.3px">CHEST<br>GIRTH</div>
<div class="abs lbl" style="left:1125.0px;top:443.0px">NECK<br>GIRTH</div>


<div class="row" style="top:833px;height:71.5px"></div>
<div class="row" style="top:924.5px;height:71.5px"></div>
<div class="row" style="top:1019px;height:70.7px"></div>
<div id="xl"></div>


<div class="cell" style="left:404.5px;top:849px">20-31</div>
<div class="cell" style="left:671px;top:849px">14-21</div>
<div class="cell" style="left:995px;top:849px;word-spacing:6px">18-35 lbs</div>
<div class="cell" style="left:404.5px;top:940.5px">22-33</div>
<div class="cell" style="left:671px;top:940.5px">16-22</div>
<div class="cell" style="left:995px;top:940.5px;word-spacing:6px">30-50 lbs</div>
<div class="cell" style="left:404.5px;top:1034.5px">24-37</div>
<div class="cell" style="left:671px;top:1034.5px">18-29</div>
<div class="cell" style="left:995px;top:1034.5px;word-spacing:6px">45-80 lbs</div>
<div class="cell cx" style="left:390px;top:1119.6px;font-size:44px;line-height:48px">26-42</div>
<div class="cell cx" style="left:678.5px;top:1119.6px;font-size:44px;line-height:48px">20-31</div>
<div class="cell cx" style="left:1019.5px;top:1119.6px;font-size:44px;line-height:48px;word-spacing:3px">75-135 lbs</div>
<div class="abs ht" style="left:600px;top:26px;font-size:50px;line-height:56px">Other dog breeds for XL</div>
<div class="abs ht" style="left:113px;top:750px;font-size:32px;line-height:36px">Size</div>
<div class="abs ht" style="left:347px;top:746px;font-size:18px;line-height:23px;text-align:center">Chest Girth<br>(inches)</div>
<div class="abs ht" style="left:612px;top:746px;font-size:18px;line-height:23px;text-align:center">Neck Girth<br>(inches)</div>
<div class="abs ht" style="left:896px;top:754px;font-size:24px;line-height:28px">Approx WEIGHT</div>
<div class="abs ht" style="left:138px;top:852px;font-size:32px;line-height:36px">S</div>
<div class="abs ht" style="left:132px;top:943px;font-size:32px;line-height:36px">M</div>
<div class="abs ht" style="left:140px;top:1037px;font-size:32px;line-height:36px">L</div>
<div class="abs ht" style="left:95px;top:1127px;font-size:34px;line-height:38px">XL</div>
<svg class="abs" style="left:0;top:0" width="1200" height="1200" viewBox="0 0 1200 1200"><path fill="#fff" fill-rule="evenodd" d="M140.1 854.9L156.6 854.9L158.6 856.9L158.6 861.9L147.2 861.9L147.2 865.5L156.6 865.5L158.6 867.5L158.6 884L156.6 886L140.1 886L138.1 884L138.1 878.2L149.6 878.2L149.6 873.4L140.1 873.4L138.1 871.4L138.1 856.9ZM132.1 946.4L143.6 946.4L148.1 961.4L152.6 946.4L164.1 946.4L164.1 977.2L156.1 977.2L156.1 960.4L150.5 973.7L145.7 973.7L140.1 960.4L140.1 977.2L132.1 977.2ZM140 1039.8L149.4 1039.8L149.4 1063L156 1063L156 1071.2L140 1071.2ZM119.6 1129.4L129.8 1129.4L129.8 1153.2L136.9 1153.2L136.9 1162.8L119.6 1162.8ZM115.7 753.1L131.5 753.1L133.3 754.9L133.3 759.2L121.6 759.2L121.6 762.4L131.5 762.4L133.3 764.2L133.3 780.7L131.5 782.5L115.7 782.5L113.9 780.7L113.9 775.5L124.8 775.5L124.8 770.5L115.7 770.5L113.9 768.7L113.9 754.9ZM136.2 753.1L143.2 753.1L143.2 758.5L136.2 758.5ZM136.2 760.9L143.2 760.9L143.2 782.5L136.2 782.5ZM144.7 760.9L162.4 760.9L162.4 766.2L153.7 777.2L162.4 777.2L162.4 782.5L144.7 782.5L144.7 777.2L153.4 766.2L144.7 766.2ZM165.3 760.9L180.3 760.9L181.8 762.4L181.8 774.7L170.5 774.7L170.5 776.5L181.8 776.5L181.8 781L180.3 782.5L165.3 782.5L163.8 781L163.8 762.4ZM170.5 766.2L170.5 769.4L175.1 769.4L175.1 766.2Z"/><path fill="#fff" d="M94.8 1129.4L105.3 1129.4L119 1162.8L108.4 1162.8ZM108.4 1129.4L119 1129.4L105.3 1162.8L94.8 1162.8Z"/><path fill="#fff" d="M33.5 1123.1L73.5 1145L33.5 1166.9Z"/><path fill="#fff" transform="translate(896.30,777.50) scale(0.4950,0.4800)" d="M7 -41.6L25 -41.6L32 -28.6L32 0L21.7 0L21.7 -9.5L10.3 -9.5L10.3 0L0 0L0 -28.6ZM10.9 -32.1L10.9 -18L21.1 -18L21.1 -32.1ZM35.5 -31L59.1 -31L61.3 -28.8L61.3 -2.2L59.1 0L45.8 0L45.8 10.1L35.5 10.1ZM45.9 -22.5L45.9 -8.5L50.7 -8.5L50.7 -22.5ZM64.8 -31L88.4 -31L90.6 -28.8L90.6 -2.2L88.4 0L75.1 0L75.1 10.1L64.8 10.1ZM75.2 -22.5L75.2 -8.5L80 -8.5L80 -22.5ZM94.1 -31L111.6 -31L111.6 -22L104.9 -22L104.9 0L94.1 0ZM117.3 -31L138.9 -31L141.1 -28.8L141.1 -2.2L138.9 0L117.3 0L115.1 -2.2L115.1 -28.8ZM125.7 -22.5L125.7 -8.5L130.6 -8.5L130.6 -22.5ZM144.6 -31L156.6 -31L175.6 0L163.6 0ZM163.6 -31L175.6 -31L156.6 0L144.6 0ZM194.6 -41.6L205.64 -41.6L205.64 -18.72L214.81 -36.61L221.39 -36.61L230.56 -18.72L230.56 -41.6L241.6 -41.6L241.6 0L225.62 0L218.1 -19.97L210.58 0L194.6 0ZM245.1 -41.6L267.8 -41.6L267.8 -33.1L255.4 -33.1L255.4 -25L264.8 -25L264.8 -16.6L255.4 -16.6L255.4 -8.5L267.8 -8.5L267.8 0L245.1 0ZM271.3 -41.6L283.3 -41.6L283.3 0L271.3 0ZM289 -41.6L310.6 -41.6L312.8 -39.4L312.8 -27.6L302.5 -27.6L302.5 -33.1L297.1 -33.1L297.1 -8.5L302.5 -8.5L302.5 -15.5L299.5 -15.5L299.5 -23L312.8 -23L312.8 -2.2L310.6 0L289 0L286.8 -2.2L286.8 -39.4ZM316.3 -41.6L326.6 -41.6L326.6 -25.1L332 -25.1L332 -41.6L342.3 -41.6L342.3 0L332 0L332 -16.1L326.6 -16.1L326.6 0L316.3 0ZM345.8 -41.6L376.8 -41.6L376.8 -32.6L367.05 -32.6L367.05 0L355.55 0L355.55 -32.6L345.8 -32.6Z"/><path fill="#fff" transform="translate(346.80,763.40) scale(0.4110,0.3580)" d="M2.2 -41.6L22.8 -41.6L25 -39.4L25 -26.6L14.7 -26.6L14.7 -33.1L10.3 -33.1L10.3 -8.5L14.7 -8.5L14.7 -15L25 -15L25 -2.2L22.8 0L2.2 0L0 -2.2L0 -39.4ZM28.5 -41.6L38.8 -41.6L38.8 -31L52.3 -31L54.5 -28.8L54.5 0L44.2 0L44.2 -22.4L38.8 -22.4L38.8 0L28.5 0ZM60.2 -31L81.8 -31L84 -28.8L84 -10.7L68.6 -10.7L68.6 -8L84 -8L84 -2.2L81.8 0L60.2 0L58 -2.2L58 -28.8ZM68.6 -23.6L68.6 -18.2L73.6 -18.2L73.6 -23.6ZM89.7 -31L110.3 -31L112.5 -28.8L112.5 -24.2L98.3 -24.2L98.3 -20.9L110.3 -20.9L112.5 -18.7L112.5 -2.2L110.3 0L89.7 0L87.5 -2.2L87.5 -6.7L100.8 -6.7L100.8 -10L89.7 -10L87.5 -12.2L87.5 -28.8ZM119.5 -38L129.6 -38L129.6 -31L134 -31L134 -23.2L129.6 -23.2L129.6 -8.2L134 -8.2L134 0L121.7 0L119.5 -2.2L119.5 -23.2L116 -23.2L116 -31ZM155.2 -41.6L176.8 -41.6L179 -39.4L179 -27.6L168.7 -27.6L168.7 -33.1L163.3 -33.1L163.3 -8.5L168.7 -8.5L168.7 -15.5L165.7 -15.5L165.7 -23L179 -23L179 -2.2L176.8 0L155.2 0L153 -2.2L153 -39.4ZM182.5 -31L192.8 -31L192.8 0L182.5 0ZM182.5 -41.6L192.8 -41.6L192.8 -34L182.5 -34ZM196.3 -31L213.8 -31L213.8 -22L207.1 -22L207.1 0L196.3 0ZM220.8 -38L230.9 -38L230.9 -31L235.3 -31L235.3 -23.2L230.9 -23.2L230.9 -8.2L235.3 -8.2L235.3 0L223 0L220.8 -2.2L220.8 -23.2L217.3 -23.2L217.3 -31ZM238.8 -41.6L249.1 -41.6L249.1 -31L262.6 -31L264.8 -28.8L264.8 0L254.5 0L254.5 -22.4L249.1 -22.4L249.1 0L238.8 0Z"/><path fill="#fff" transform="translate(362.40,787.80) scale(0.4320,0.3550)" d="M12 -44.6L5 -44.6L0 -38.6L0 6.1L5 12.1L12 12.1L12 5.1L8.5 5.1L8.5 -37.6L12 -37.6ZM15.5 -31L25.8 -31L25.8 0L15.5 0ZM15.5 -41.6L25.8 -41.6L25.8 -34L15.5 -34ZM29.3 -31L53.1 -31L55.3 -28.8L55.3 0L45 0L45 -22.4L39.6 -22.4L39.6 0L29.3 0ZM61 -31L81.6 -31L83.8 -28.8L83.8 -19.5L73.5 -19.5L73.5 -22.5L69.4 -22.5L69.4 -8.5L73.5 -8.5L73.5 -11.5L83.8 -11.5L83.8 -2.2L81.6 0L61 0L58.8 -2.2L58.8 -28.8ZM87.3 -41.6L97.6 -41.6L97.6 -31L111.1 -31L113.3 -28.8L113.3 0L103 0L103 -22.4L97.6 -22.4L97.6 0L87.3 0ZM119 -31L140.6 -31L142.8 -28.8L142.8 -10.7L127.4 -10.7L127.4 -8L142.8 -8L142.8 -2.2L140.6 0L119 0L116.8 -2.2L116.8 -28.8ZM127.4 -23.6L127.4 -18.2L132.4 -18.2L132.4 -23.6ZM148.5 -31L169.1 -31L171.3 -28.8L171.3 -24.2L157.1 -24.2L157.1 -20.9L169.1 -20.9L171.3 -18.7L171.3 -2.2L169.1 0L148.5 0L146.3 -2.2L146.3 -6.7L159.6 -6.7L159.6 -10L148.5 -10L146.3 -12.2L146.3 -28.8ZM174.8 -44.6L181.8 -44.6L186.8 -38.6L186.8 6.1L181.8 12.1L174.8 12.1L174.8 5.1L178.3 5.1L178.3 -37.6L174.8 -37.6Z"/><path fill="#fff" transform="translate(611.50,763.40) scale(0.4285,0.3580)" d="M0 -41.6L12.8 -41.6L18.7 -17L18.7 -41.6L29 -41.6L29 0L16.2 0L10.3 -24.6L10.3 0L0 0ZM34.7 -31L56.3 -31L58.5 -28.8L58.5 -10.7L43.1 -10.7L43.1 -8L58.5 -8L58.5 -2.2L56.3 0L34.7 0L32.5 -2.2L32.5 -28.8ZM43.1 -23.6L43.1 -18.2L48.1 -18.2L48.1 -23.6ZM64.2 -31L84.8 -31L87 -28.8L87 -19.5L76.7 -19.5L76.7 -22.5L72.6 -22.5L72.6 -8.5L76.7 -8.5L76.7 -11.5L87 -11.5L87 -2.2L84.8 0L64.2 0L62 -2.2L62 -28.8ZM90.5 -41.6L100.8 -41.6L100.8 -19.5L105.5 -31L117.5 -31L108.3 -15.5L117.5 0L105.5 0L100.8 -11.5L100.8 0L90.5 0ZM138.7 -41.6L160.3 -41.6L162.5 -39.4L162.5 -27.6L152.2 -27.6L152.2 -33.1L146.8 -33.1L146.8 -8.5L152.2 -8.5L152.2 -15.5L149.2 -15.5L149.2 -23L162.5 -23L162.5 -2.2L160.3 0L138.7 0L136.5 -2.2L136.5 -39.4ZM166 -31L176.3 -31L176.3 0L166 0ZM166 -41.6L176.3 -41.6L176.3 -34L166 -34ZM179.8 -31L197.3 -31L197.3 -22L190.6 -22L190.6 0L179.8 0ZM204.3 -38L214.4 -38L214.4 -31L218.8 -31L218.8 -23.2L214.4 -23.2L214.4 -8.2L218.8 -8.2L218.8 0L206.5 0L204.3 -2.2L204.3 -23.2L200.8 -23.2L200.8 -31ZM222.3 -41.6L232.6 -41.6L232.6 -31L246.1 -31L248.3 -28.8L248.3 0L238 0L238 -22.4L232.6 -22.4L232.6 0L222.3 0Z"/><path fill="#fff" transform="translate(627.00,787.80) scale(0.4320,0.3550)" d="M12 -44.6L5 -44.6L0 -38.6L0 6.1L5 12.1L12 12.1L12 5.1L8.5 5.1L8.5 -37.6L12 -37.6ZM15.5 -31L25.8 -31L25.8 0L15.5 0ZM15.5 -41.6L25.8 -41.6L25.8 -34L15.5 -34ZM29.3 -31L53.1 -31L55.3 -28.8L55.3 0L45 0L45 -22.4L39.6 -22.4L39.6 0L29.3 0ZM61 -31L81.6 -31L83.8 -28.8L83.8 -19.5L73.5 -19.5L73.5 -22.5L69.4 -22.5L69.4 -8.5L73.5 -8.5L73.5 -11.5L83.8 -11.5L83.8 -2.2L81.6 0L61 0L58.8 -2.2L58.8 -28.8ZM87.3 -41.6L97.6 -41.6L97.6 -31L111.1 -31L113.3 -28.8L113.3 0L103 0L103 -22.4L97.6 -22.4L97.6 0L87.3 0ZM119 -31L140.6 -31L142.8 -28.8L142.8 -10.7L127.4 -10.7L127.4 -8L142.8 -8L142.8 -2.2L140.6 0L119 0L116.8 -2.2L116.8 -28.8ZM127.4 -23.6L127.4 -18.2L132.4 -18.2L132.4 -23.6ZM148.5 -31L169.1 -31L171.3 -28.8L171.3 -24.2L157.1 -24.2L157.1 -20.9L169.1 -20.9L171.3 -18.7L171.3 -2.2L169.1 0L148.5 0L146.3 -2.2L146.3 -6.7L159.6 -6.7L159.6 -10L148.5 -10L146.3 -12.2L146.3 -28.8ZM174.8 -44.6L181.8 -44.6L186.8 -38.6L186.8 6.1L181.8 12.1L174.8 12.1L174.8 5.1L178.3 5.1L178.3 -37.6L174.8 -37.6Z"/></svg>
</body></html>
